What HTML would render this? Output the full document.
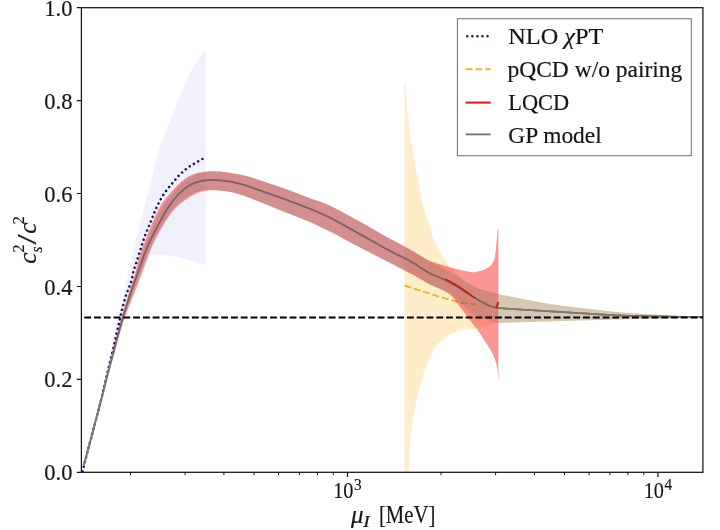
<!DOCTYPE html>
<html lang="en"><head><meta charset="utf-8"><title>Speed of sound</title>
<style>html,body{margin:0;padding:0;background:#fff}svg{display:block}text{stroke:#151515;stroke-width:.18px}</style></head>
<body>
<svg width="720" height="530" viewBox="0 0 720 530" font-family="'Liberation Serif', serif" font-size="24" fill="#151515">
<rect width="720" height="530" fill="#fff"/>
<defs><clipPath id="ax"><rect x="81.4" y="7.7" width="621.5" height="464.6"/></clipPath></defs>
<g clip-path="url(#ax)">
<path d="M105.0,376.0 L105.2,375.0 L105.4,374.0 L105.7,373.1 L105.9,372.1 L106.1,371.1 L106.3,370.1 L106.5,369.2 L106.8,368.2 L107.0,367.2 L107.2,366.2 L107.4,365.2 L107.6,364.3 L107.9,363.3 L108.1,362.3 L108.3,361.3 L108.5,360.4 L108.7,359.4 L109.0,358.4 L109.2,357.4 L109.4,356.4 L109.6,355.5 L109.8,354.5 L110.1,353.5 L110.3,352.5 L110.5,351.6 L110.7,350.6 L111.0,349.6 L111.2,348.6 L111.4,347.6 L111.6,346.7 L111.8,345.7 L112.1,344.7 L112.3,343.7 L112.5,342.8 L112.7,341.8 L113.0,340.8 L113.2,339.8 L113.4,338.9 L113.6,337.9 L113.8,336.9 L114.1,335.9 L114.3,334.9 L114.5,334.0 L114.7,333.0 L115.0,332.0 L115.2,331.0 L115.4,330.1 L115.6,329.1 L115.9,328.1 L116.1,327.1 L116.3,326.2 L116.5,325.2 L116.8,324.2 L117.0,323.2 L117.2,322.2 L117.4,321.3 L117.6,320.3 L117.9,319.3 L118.1,318.3 L118.3,317.4 L118.5,316.4 L118.8,315.4 L119.0,314.4 L119.2,313.5 L119.4,312.5 L119.7,311.5 L119.9,310.5 L120.1,309.5 L120.3,308.6 L120.6,307.6 L120.8,306.6 L121.0,305.6 L121.2,304.7 L121.4,303.7 L121.7,302.7 L121.9,301.7 L122.1,300.7 L122.3,299.8 L122.6,298.8 L122.8,297.8 L123.0,296.8 L123.2,295.9 L123.4,294.9 L123.7,293.9 L123.9,292.9 L124.1,292.0 L124.3,291.0 L124.5,290.0 L124.8,289.0 L125.0,288.0 L125.2,287.1 L125.4,286.1 L125.7,285.1 L125.9,284.1 L126.1,283.2 L126.3,282.2 L126.5,281.2 L126.8,280.2 L127.0,279.2 L127.2,278.3 L127.4,277.3 L127.7,276.3 L127.9,275.3 L128.1,274.4 L128.3,273.4 L128.5,272.4 L128.8,271.4 L129.0,270.4 L129.2,269.5 L129.4,268.5 L129.7,267.5 L129.9,266.5 L130.1,265.6 L130.3,264.6 L130.5,263.6 L130.8,262.6 L131.0,261.7 L131.2,260.7 L131.4,259.7 L131.7,258.7 L131.9,257.7 L132.1,256.8 L132.4,255.8 L132.6,254.8 L132.8,253.8 L133.0,252.9 L133.3,251.9 L133.5,250.9 L133.7,249.9 L134.0,249.0 L134.2,248.0 L134.4,247.0 L134.7,246.0 L134.9,245.1 L135.1,244.1 L135.4,243.1 L135.6,242.1 L135.8,241.2 L136.1,240.2 L136.3,239.2 L136.5,238.2 L136.8,237.3 L137.0,236.3 L137.2,235.3 L137.5,234.4 L137.7,233.4 L138.0,232.4 L138.2,231.4 L138.4,230.5 L138.7,229.5 L138.9,228.5 L139.1,227.5 L139.4,226.6 L139.6,225.6 L139.9,224.6 L140.1,223.6 L140.3,222.7 L140.6,221.7 L140.8,220.7 L141.1,219.7 L141.3,218.8 L141.6,217.8 L141.8,216.8 L142.1,215.9 L142.3,214.9 L142.6,213.9 L142.8,213.0 L143.1,212.0 L143.3,211.0 L143.6,210.1 L143.8,209.1 L144.1,208.1 L144.4,207.1 L144.6,206.2 L144.9,205.2 L145.1,204.2 L145.4,203.3 L145.7,202.3 L145.9,201.3 L146.2,200.4 L146.5,199.4 L146.7,198.4 L147.0,197.5 L147.2,196.5 L147.5,195.5 L147.8,194.6 L148.0,193.6 L148.3,192.6 L148.5,191.7 L148.8,190.7 L149.0,189.7 L149.3,188.8 L149.5,187.8 L149.8,186.8 L150.0,185.8 L150.3,184.9 L150.5,183.9 L150.8,182.9 L151.0,181.9 L151.2,181.0 L151.4,180.0 L151.6,179.0 L151.9,178.0 L152.1,177.1 L152.3,176.1 L152.5,175.1 L152.7,174.1 L152.9,173.1 L153.1,172.2 L153.3,171.2 L153.6,170.2 L153.8,169.2 L154.0,168.2 L154.2,167.3 L154.4,166.3 L154.7,165.3 L154.9,164.3 L155.2,163.4 L155.4,162.4 L155.7,161.4 L155.9,160.5 L156.2,159.5 L156.4,158.5 L156.7,157.6 L157.0,156.6 L157.3,155.6 L157.6,154.7 L157.9,153.7 L158.2,152.8 L158.5,151.8 L158.8,150.8 L159.1,149.9 L159.4,148.9 L159.7,148.0 L160.0,147.0 L160.4,146.1 L160.7,145.1 L161.0,144.2 L161.3,143.2 L161.7,142.3 L162.0,141.4 L162.4,140.4 L162.7,139.5 L163.0,138.5 L163.4,137.6 L163.7,136.6 L164.1,135.7 L164.4,134.8 L164.8,133.8 L165.1,132.9 L165.5,131.9 L165.8,131.0 L166.2,130.1 L166.5,129.1 L166.9,128.2 L167.2,127.3 L167.6,126.3 L167.9,125.4 L168.3,124.4 L168.7,123.5 L169.0,122.6 L169.4,121.6 L169.8,120.7 L170.1,119.8 L170.5,118.8 L170.8,117.9 L171.2,117.0 L171.6,116.0 L172.0,115.1 L172.3,114.2 L172.7,113.3 L173.1,112.3 L173.4,111.4 L173.8,110.5 L174.2,109.5 L174.6,108.6 L174.9,107.7 L175.3,106.7 L175.7,105.8 L176.1,104.9 L176.5,104.0 L176.8,103.0 L177.2,102.1 L177.6,101.2 L178.0,100.3 L178.4,99.3 L178.8,98.4 L179.2,97.5 L179.6,96.6 L180.0,95.7 L180.4,94.7 L180.8,93.8 L181.2,92.9 L181.6,92.0 L182.0,91.1 L182.4,90.2 L182.8,89.2 L183.2,88.3 L183.6,87.4 L184.0,86.5 L184.4,85.6 L184.9,84.7 L185.3,83.7 L185.7,82.8 L186.1,81.9 L186.5,81.0 L186.9,80.1 L187.3,79.2 L187.7,78.3 L188.1,77.3 L188.6,76.4 L189.0,75.5 L189.4,74.6 L189.9,73.7 L190.3,72.8 L190.8,71.9 L191.2,71.0 L191.7,70.1 L192.2,69.3 L192.6,68.4 L193.1,67.5 L193.6,66.6 L194.1,65.7 L194.6,64.9 L195.1,64.0 L195.6,63.1 L196.1,62.3 L196.6,61.4 L197.1,60.6 L197.7,59.7 L198.2,58.8 L198.7,58.0 L199.3,57.1 L199.8,56.3 L200.4,55.5 L201.0,54.7 L201.7,54.0 L202.4,53.3 L203.2,52.7 L204.0,52.1 L204.9,51.5 L205.8,51.0 L205.8,265.0 L204.8,264.7 L203.9,264.4 L202.9,264.1 L202.0,263.8 L201.0,263.5 L200.1,263.2 L199.1,262.9 L198.2,262.6 L197.2,262.3 L196.2,262.0 L195.3,261.7 L194.3,261.4 L193.4,261.2 L192.4,260.9 L191.4,260.6 L190.5,260.3 L189.5,260.1 L188.5,259.8 L187.6,259.5 L186.6,259.2 L185.6,259.0 L184.7,258.7 L183.7,258.5 L182.7,258.2 L181.8,258.0 L180.8,257.8 L179.8,257.5 L178.8,257.3 L177.9,257.1 L176.9,256.9 L175.9,256.7 L174.9,256.5 L173.9,256.3 L172.9,256.2 L171.9,256.0 L170.9,255.9 L169.9,255.8 L168.9,255.7 L167.9,255.6 L166.9,255.6 L165.9,255.5 L164.9,255.4 L163.9,255.4 L162.9,255.3 L161.9,255.3 L160.9,255.3 L159.9,255.3 L158.9,255.3 L157.9,255.3 L156.9,255.3 L155.9,255.3 L154.9,255.3 L153.9,255.4 L152.9,255.6 L152.0,255.8 L151.0,256.1 L150.0,256.4 L149.1,256.9 L148.2,257.4 L147.5,258.1 L146.8,258.8 L146.2,259.7 L145.7,260.5 L145.2,261.4 L144.7,262.3 L144.2,263.2 L143.8,264.1 L143.4,265.0 L143.0,265.9 L142.7,266.9 L142.3,267.8 L141.9,268.7 L141.6,269.7 L141.2,270.6 L140.8,271.5 L140.5,272.5 L140.1,273.4 L139.8,274.3 L139.4,275.3 L139.0,276.2 L138.7,277.1 L138.3,278.1 L137.9,279.0 L137.6,279.9 L137.2,280.9 L136.9,281.8 L136.5,282.7 L136.1,283.7 L135.8,284.6 L135.4,285.5 L135.0,286.5 L134.7,287.4 L134.3,288.3 L133.9,289.3 L133.5,290.2 L133.2,291.1 L132.8,292.1 L132.4,293.0 L132.0,293.9 L131.7,294.8 L131.3,295.8 L130.9,296.7 L130.5,297.6 L130.2,298.6 L129.8,299.5 L129.4,300.4 L129.1,301.4 L128.7,302.3 L128.3,303.2 L128.0,304.2 L127.6,305.1 L127.3,306.0 L126.9,307.0 L126.5,307.9 L126.2,308.8 L125.8,309.8 L125.5,310.7 L125.1,311.7 L124.8,312.6 L124.4,313.5 L124.1,314.5 L123.7,315.4 L123.4,316.4 L123.1,317.3 L122.7,318.2 L122.4,319.2 L122.0,320.1 L121.7,321.1 L121.4,322.0 L121.0,323.0 L120.7,323.9 L120.4,324.9 L120.1,325.8 L119.7,326.8 L119.4,327.7 L119.1,328.7 L118.8,329.6 L118.5,330.6 L118.2,331.5 L117.9,332.5 L117.6,333.4 L117.3,334.4 L117.0,335.4 L116.7,336.3 L116.5,337.3 L116.2,338.3 L115.9,339.2 L115.6,340.2 L115.4,341.1 L115.1,342.1 L114.8,343.1 L114.6,344.0 L114.3,345.0 L114.1,346.0 L113.8,347.0 L113.6,347.9 L113.3,348.9 L113.1,349.9 L112.8,350.8 L112.6,351.8 L112.3,352.8 L112.1,353.7 L111.8,354.7 L111.6,355.7 L111.3,356.7 L111.1,357.6 L110.8,358.6 L110.6,359.6 L110.4,360.6 L110.1,361.5 L109.9,362.5 L109.6,363.5 L109.4,364.4 L109.2,365.4 L108.9,366.4 L108.7,367.4 L108.5,368.3 L108.3,369.3 L108.0,370.3 L107.8,371.3 L107.6,372.2 L107.3,373.2 L107.1,374.2 L106.9,375.2 L106.7,376.2 L106.5,377.1 L106.3,378.1 L106.0,379.1 L105.8,380.1 L105.6,381.1 L105.4,382.0 L105.2,383.0 L105.0,384.0Z" fill="#3c3cd0" fill-opacity="0.072"/>
<path d="M404.5,83.8 L405.6,83.9 L405.7,84.9 L405.8,85.9 L405.9,86.9 L406.0,87.9 L406.0,88.9 L406.1,89.9 L406.2,90.9 L406.2,91.8 L406.3,92.8 L406.3,93.8 L406.4,94.8 L406.4,95.8 L406.4,96.8 L406.5,97.8 L406.5,98.8 L406.6,99.8 L406.6,100.8 L406.7,101.8 L406.7,102.8 L406.8,103.8 L406.9,104.8 L406.9,105.8 L407.0,106.8 L407.1,107.8 L407.2,108.8 L407.3,109.8 L407.4,110.8 L407.5,111.8 L407.6,112.8 L407.7,113.8 L407.8,114.8 L407.9,115.8 L408.0,116.8 L408.1,117.8 L408.1,118.8 L408.2,119.8 L408.3,120.8 L408.4,121.8 L408.5,122.8 L408.6,123.8 L408.7,124.8 L408.8,125.8 L408.9,126.8 L409.0,127.8 L409.2,128.7 L409.3,129.7 L409.4,130.7 L409.5,131.7 L409.7,132.7 L409.8,133.7 L410.0,134.7 L410.1,135.7 L410.3,136.7 L410.5,137.6 L410.7,138.6 L410.8,139.6 L411.0,140.6 L411.2,141.6 L411.4,142.6 L411.5,143.6 L411.7,144.5 L411.9,145.5 L412.0,146.5 L412.2,147.5 L412.4,148.5 L412.6,149.5 L412.7,150.5 L412.9,151.4 L413.1,152.4 L413.3,153.4 L413.4,154.4 L413.6,155.4 L413.8,156.4 L414.0,157.3 L414.1,158.3 L414.3,159.3 L414.5,160.3 L414.7,161.3 L414.8,162.3 L415.0,163.3 L415.2,164.2 L415.3,165.2 L415.5,166.2 L415.7,167.2 L415.9,168.2 L416.0,169.2 L416.2,170.2 L416.4,171.1 L416.6,172.1 L416.7,173.1 L416.9,174.1 L417.1,175.1 L417.3,176.1 L417.4,177.1 L417.6,178.0 L417.8,179.0 L418.0,180.0 L418.1,181.0 L418.3,182.0 L418.5,183.0 L418.6,183.9 L418.8,184.9 L419.0,185.9 L419.2,186.9 L419.3,187.9 L419.5,188.9 L419.7,189.9 L419.9,190.8 L420.1,191.8 L420.2,192.8 L420.4,193.8 L420.6,194.8 L420.8,195.8 L420.9,196.7 L421.1,197.7 L421.3,198.7 L421.5,199.7 L421.8,200.7 L422.0,201.6 L422.2,202.6 L422.5,203.6 L422.7,204.5 L423.0,205.5 L423.3,206.5 L423.6,207.4 L423.8,208.4 L424.1,209.3 L424.4,210.3 L424.7,211.2 L425.0,212.2 L425.3,213.2 L425.6,214.1 L425.9,215.1 L426.3,216.0 L426.6,217.0 L426.9,217.9 L427.2,218.9 L427.5,219.8 L427.8,220.8 L428.1,221.7 L428.5,222.7 L428.8,223.6 L429.1,224.6 L429.4,225.5 L429.7,226.5 L430.0,227.5 L430.3,228.4 L430.6,229.4 L430.9,230.3 L431.1,231.3 L431.4,232.3 L431.7,233.2 L432.0,234.2 L432.3,235.1 L432.6,236.1 L432.9,237.1 L433.2,238.0 L433.5,238.9 L433.8,239.9 L434.2,240.8 L434.5,241.8 L434.9,242.7 L435.3,243.6 L435.8,244.5 L436.2,245.4 L436.7,246.3 L437.2,247.2 L437.6,248.1 L438.1,248.9 L438.7,249.8 L439.2,250.6 L439.7,251.5 L440.2,252.3 L440.8,253.2 L441.3,254.0 L441.8,254.9 L442.3,255.7 L442.9,256.6 L443.4,257.4 L443.9,258.3 L444.4,259.1 L444.9,260.0 L445.5,260.8 L446.0,261.7 L446.5,262.5 L447.1,263.4 L447.6,264.2 L448.2,265.0 L448.8,265.8 L449.5,266.6 L450.2,267.3 L450.9,268.0 L451.6,268.7 L452.3,269.4 L453.0,270.1 L453.7,270.8 L454.5,271.5 L455.2,272.2 L455.9,272.9 L456.7,273.6 L457.4,274.3 L458.1,275.0 L458.9,275.7 L459.6,276.3 L460.4,277.0 L461.1,277.6 L461.9,278.3 L462.6,278.9 L463.4,279.6 L464.2,280.2 L465.0,280.8 L465.8,281.4 L466.6,281.9 L467.5,282.5 L468.3,283.0 L469.2,283.5 L470.1,284.0 L471.0,284.5 L471.9,285.0 L472.8,285.5 L473.7,285.9 L474.6,286.3 L475.5,286.8 L476.5,287.2 L477.4,287.6 L478.3,288.0 L479.2,288.3 L480.2,288.7 L481.1,289.1 L482.1,289.4 L483.0,289.7 L483.9,290.1 L484.9,290.4 L485.8,290.7 L486.8,291.0 L487.7,291.3 L488.7,291.6 L489.7,291.8 L490.6,292.1 L491.6,292.4 L492.6,292.6 L493.5,292.9 L494.5,293.1 L495.5,293.3 L496.4,293.5 L497.4,293.8 L498.4,294.0 L499.4,294.2 L500.4,294.4 L501.3,294.6 L502.3,294.8 L503.3,295.0 L504.3,295.2 L505.2,295.4 L506.2,295.6 L507.2,295.9 L508.2,296.1 L509.2,296.3 L510.1,296.5 L511.1,296.7 L512.1,296.9 L513.1,297.1 L514.1,297.3 L515.0,297.5 L516.0,297.7 L517.0,297.9 L518.0,298.0 L519.0,298.2 L519.9,298.4 L520.9,298.6 L521.9,298.8 L522.9,299.0 L523.9,299.2 L524.9,299.3 L525.8,299.5 L526.8,299.7 L527.8,299.9 L528.8,300.1 L529.8,300.3 L530.8,300.5 L531.7,300.7 L532.7,300.9 L533.7,301.1 L534.7,301.2 L535.7,301.4 L536.7,301.6 L537.6,301.8 L538.6,302.0 L539.6,302.2 L540.6,302.4 L541.6,302.6 L542.6,302.7 L543.5,302.9 L544.5,303.1 L545.5,303.3 L546.5,303.4 L547.5,303.6 L548.5,303.8 L549.5,303.9 L550.4,304.1 L551.4,304.2 L552.4,304.4 L553.4,304.5 L554.4,304.7 L555.4,304.8 L556.4,305.0 L557.4,305.1 L558.4,305.2 L559.4,305.3 L560.3,305.5 L561.3,305.6 L562.3,305.7 L563.3,305.8 L564.3,306.0 L565.3,306.1 L566.3,306.2 L567.3,306.3 L568.3,306.4 L569.3,306.6 L570.3,306.7 L571.3,306.8 L572.3,306.9 L573.3,307.0 L574.3,307.2 L575.2,307.3 L576.2,307.4 L577.2,307.5 L578.2,307.6 L579.2,307.7 L580.2,307.9 L581.2,308.0 L582.2,308.1 L583.2,308.2 L584.2,308.3 L585.2,308.4 L586.2,308.6 L587.2,308.7 L588.2,308.8 L589.2,308.9 L590.1,309.0 L591.1,309.1 L592.1,309.3 L593.1,309.4 L594.1,309.5 L595.1,309.6 L596.1,309.7 L597.1,309.8 L598.1,309.9 L599.1,310.1 L600.1,310.2 L601.1,310.3 L602.1,310.4 L603.1,310.5 L604.1,310.6 L605.1,310.7 L606.0,310.9 L607.0,311.0 L608.0,311.1 L609.0,311.2 L610.0,311.3 L611.0,311.4 L612.0,311.5 L613.0,311.6 L614.0,311.7 L615.0,311.8 L616.0,311.9 L617.0,312.0 L618.0,312.1 L619.0,312.2 L620.0,312.3 L621.0,312.4 L622.0,312.5 L623.0,312.5 L624.0,312.6 L625.0,312.7 L626.0,312.8 L627.0,312.8 L628.0,312.9 L629.0,313.0 L630.0,313.1 L630.9,313.1 L631.9,313.2 L632.9,313.3 L633.9,313.3 L634.9,313.4 L635.9,313.5 L636.9,313.5 L637.9,313.6 L638.9,313.7 L639.9,313.7 L640.9,313.8 L641.9,313.8 L642.9,313.9 L643.9,314.0 L644.9,314.0 L645.9,314.1 L646.9,314.1 L647.9,314.2 L648.9,314.2 L649.9,314.3 L650.9,314.4 L651.9,314.4 L652.9,314.5 L653.9,314.5 L654.9,314.6 L655.9,314.6 L656.9,314.7 L657.9,314.7 L658.9,314.8 L659.9,314.8 L660.9,314.9 L661.9,314.9 L662.9,315.0 L663.9,315.0 L664.9,315.1 L665.9,315.1 L666.9,315.1 L667.9,315.2 L668.9,315.2 L669.9,315.3 L670.9,315.3 L671.9,315.4 L672.9,315.4 L673.9,315.4 L674.9,315.5 L675.9,315.5 L676.9,315.6 L677.9,315.6 L678.9,315.6 L679.9,315.7 L680.9,315.7 L681.9,315.7 L682.9,315.8 L683.9,315.8 L684.9,315.8 L685.9,315.9 L686.9,315.9 L687.9,315.9 L688.9,316.0 L689.9,316.0 L690.9,316.0 L691.9,316.0 L692.9,316.1 L693.9,316.1 L694.9,316.1 L695.9,316.1 L696.9,316.2 L697.9,316.2 L698.9,316.2 L699.9,316.2 L700.9,316.3 L701.9,316.3 L702.9,316.3 L702.9,317.8 L701.9,317.8 L700.9,317.8 L699.9,317.9 L698.9,317.9 L697.9,317.9 L696.9,317.9 L695.9,317.9 L694.9,317.9 L693.9,318.0 L692.9,318.0 L691.9,318.0 L690.9,318.0 L689.9,318.0 L688.9,318.0 L687.9,318.1 L686.9,318.1 L685.9,318.1 L684.9,318.1 L683.9,318.1 L682.9,318.2 L681.9,318.2 L680.9,318.2 L679.9,318.2 L678.9,318.2 L677.9,318.3 L676.9,318.3 L675.9,318.3 L674.9,318.3 L673.9,318.3 L672.9,318.3 L671.9,318.4 L670.9,318.4 L669.9,318.4 L668.9,318.4 L667.9,318.4 L666.9,318.5 L665.9,318.5 L664.8,318.5 L663.8,318.5 L662.8,318.5 L661.8,318.6 L660.8,318.6 L659.8,318.6 L658.8,318.6 L657.8,318.6 L656.8,318.7 L655.8,318.7 L654.8,318.7 L653.8,318.7 L652.8,318.7 L651.8,318.8 L650.8,318.8 L649.8,318.8 L648.8,318.8 L647.8,318.8 L646.8,318.9 L645.8,318.9 L644.8,318.9 L643.8,318.9 L642.8,318.9 L641.8,319.0 L640.8,319.0 L639.8,319.0 L638.8,319.0 L637.8,319.1 L636.8,319.1 L635.8,319.1 L634.8,319.1 L633.8,319.1 L632.8,319.2 L631.8,319.2 L630.8,319.2 L629.8,319.2 L628.8,319.2 L627.8,319.3 L626.8,319.3 L625.8,319.3 L624.8,319.3 L623.8,319.4 L622.8,319.4 L621.8,319.4 L620.8,319.4 L619.8,319.5 L618.8,319.5 L617.8,319.5 L616.8,319.5 L615.8,319.6 L614.8,319.6 L613.8,319.6 L612.8,319.6 L611.8,319.7 L610.8,319.7 L609.8,319.7 L608.8,319.7 L607.8,319.8 L606.8,319.8 L605.8,319.8 L604.8,319.8 L603.8,319.9 L602.8,319.9 L601.8,319.9 L600.8,319.9 L599.8,320.0 L598.8,320.0 L597.8,320.0 L596.8,320.1 L595.8,320.1 L594.8,320.1 L593.8,320.1 L592.8,320.2 L591.8,320.2 L590.8,320.2 L589.8,320.3 L588.8,320.3 L587.8,320.3 L586.8,320.3 L585.8,320.4 L584.8,320.4 L583.8,320.4 L582.7,320.5 L581.7,320.5 L580.7,320.5 L579.7,320.5 L578.7,320.6 L577.7,320.6 L576.7,320.6 L575.7,320.7 L574.7,320.7 L573.7,320.7 L572.7,320.7 L571.7,320.8 L570.7,320.8 L569.7,320.8 L568.7,320.9 L567.7,320.9 L566.7,320.9 L565.7,320.9 L564.7,321.0 L563.7,321.0 L562.7,321.0 L561.7,321.1 L560.7,321.1 L559.7,321.1 L558.7,321.2 L557.7,321.2 L556.7,321.2 L555.7,321.2 L554.7,321.3 L553.7,321.3 L552.7,321.3 L551.7,321.4 L550.7,321.4 L549.7,321.4 L548.7,321.4 L547.7,321.5 L546.7,321.5 L545.7,321.5 L544.7,321.6 L543.7,321.6 L542.7,321.6 L541.7,321.7 L540.7,321.7 L539.7,321.7 L538.7,321.7 L537.7,321.8 L536.7,321.8 L535.7,321.8 L534.7,321.9 L533.7,321.9 L532.7,321.9 L531.7,321.9 L530.7,322.0 L529.7,322.0 L528.7,322.0 L527.7,322.1 L526.7,322.1 L525.7,322.1 L524.7,322.2 L523.7,322.2 L522.7,322.2 L521.7,322.2 L520.7,322.3 L519.7,322.3 L518.7,322.3 L517.7,322.4 L516.7,322.4 L515.7,322.4 L514.7,322.5 L513.7,322.5 L512.7,322.5 L511.7,322.6 L510.7,322.6 L509.7,322.6 L508.7,322.7 L507.7,322.7 L506.7,322.7 L505.7,322.8 L504.7,322.8 L503.7,322.8 L502.7,322.9 L501.7,322.9 L500.7,322.9 L499.7,323.0 L498.7,323.0 L497.7,323.0 L496.7,323.1 L495.7,323.2 L494.7,323.4 L493.7,323.6 L492.7,323.8 L491.8,324.0 L490.8,324.2 L489.8,324.5 L488.8,324.7 L487.9,325.0 L486.9,325.3 L485.9,325.6 L485.0,325.9 L484.0,326.2 L483.0,326.5 L482.1,326.8 L481.1,327.1 L480.1,327.3 L479.2,327.6 L478.2,327.9 L477.2,328.1 L476.2,328.3 L475.3,328.5 L474.3,328.7 L473.3,328.8 L472.3,328.9 L471.3,328.9 L470.3,329.0 L469.3,329.0 L468.3,329.1 L467.3,329.2 L466.3,329.4 L465.3,329.5 L464.3,329.7 L463.3,329.8 L462.4,330.0 L461.4,330.2 L460.4,330.5 L459.4,330.7 L458.5,331.0 L457.5,331.3 L456.6,331.6 L455.6,332.0 L454.6,332.3 L453.7,332.8 L452.8,333.2 L451.9,333.6 L451.0,334.1 L450.2,334.6 L449.3,335.1 L448.5,335.7 L447.6,336.2 L446.8,336.8 L446.0,337.4 L445.2,338.0 L444.4,338.6 L443.6,339.2 L442.8,339.8 L442.0,340.4 L441.2,341.0 L440.4,341.6 L439.6,342.3 L438.8,342.9 L438.1,343.6 L437.4,344.3 L436.7,345.1 L436.1,345.9 L435.5,346.7 L435.0,347.6 L434.5,348.4 L434.0,349.3 L433.5,350.2 L433.1,351.1 L432.7,352.0 L432.3,352.9 L431.8,353.8 L431.4,354.7 L431.0,355.6 L430.6,356.5 L430.2,357.5 L429.7,358.4 L429.3,359.3 L428.9,360.2 L428.5,361.1 L428.1,362.0 L427.7,362.9 L427.3,363.9 L426.9,364.8 L426.6,365.7 L426.2,366.6 L425.8,367.6 L425.5,368.5 L425.1,369.4 L424.8,370.4 L424.4,371.3 L424.1,372.3 L423.8,373.2 L423.5,374.2 L423.2,375.1 L422.8,376.1 L422.5,377.1 L422.3,378.0 L422.0,379.0 L421.7,379.9 L421.4,380.9 L421.1,381.9 L420.8,382.8 L420.6,383.8 L420.3,384.7 L420.1,385.7 L419.8,386.7 L419.5,387.6 L419.3,388.6 L419.0,389.6 L418.8,390.6 L418.6,391.5 L418.3,392.5 L418.1,393.5 L417.9,394.5 L417.7,395.4 L417.4,396.4 L417.2,397.4 L417.0,398.4 L416.8,399.3 L416.6,400.3 L416.4,401.3 L416.2,402.3 L416.0,403.3 L415.8,404.3 L415.6,405.2 L415.4,406.2 L415.2,407.2 L415.0,408.2 L414.8,409.2 L414.7,410.2 L414.5,411.2 L414.3,412.2 L414.1,413.1 L414.0,414.1 L413.8,415.1 L413.7,416.1 L413.5,417.1 L413.3,418.1 L413.2,419.1 L413.0,420.1 L412.9,421.0 L412.7,422.0 L412.6,423.0 L412.4,424.0 L412.3,425.0 L412.1,426.0 L412.0,427.0 L411.8,428.0 L411.7,429.0 L411.5,429.9 L411.4,430.9 L411.2,431.9 L411.1,432.9 L410.9,433.9 L410.8,434.9 L410.7,435.9 L410.6,436.9 L410.5,437.9 L410.4,438.9 L410.3,439.9 L410.3,440.9 L410.2,441.9 L410.2,442.9 L410.1,443.9 L410.1,444.9 L410.0,445.9 L410.0,446.9 L409.9,447.9 L409.9,448.9 L409.9,449.9 L409.8,450.9 L409.8,451.9 L409.8,452.9 L409.7,453.9 L409.7,454.9 L409.7,455.9 L409.6,456.9 L409.6,457.9 L409.5,458.9 L409.5,459.9 L409.5,460.9 L409.4,461.9 L409.3,462.9 L409.3,463.9 L409.2,464.9 L409.1,465.9 L409.0,466.9 L408.9,467.9 L408.8,468.9 L408.7,469.9 L408.6,470.9 L408.4,471.9 L408.2,472.9 L408.0,473.8 L407.6,474.7 L407.2,475.7 L406.8,476.5 L406.3,477.4 L405.7,478.3 L405.1,479.1 L404.5,480.0Z" fill="#ffa500" fill-opacity="0.21"/>
<path d="M404.6,285.3 L406.0,285.8 L407.4,286.4 L408.8,286.9 L410.3,287.4 L411.7,287.9 L413.1,288.4 L414.6,288.8 L416.0,289.3 L417.4,289.8 L418.9,290.2 L420.3,290.7 L421.8,291.2 L423.2,291.6 L424.6,292.1 L426.1,292.5 L427.5,293.0 L429.0,293.4 L430.4,293.9 L431.9,294.3 L433.3,294.8 L434.8,295.2 L436.2,295.6 L437.7,296.1 L439.1,296.5 L440.5,297.0 L442.0,297.4 L443.4,297.8 L444.9,298.3 L446.3,298.7 L447.8,299.1 L449.2,299.5 L450.7,300.0 L452.2,300.4 L453.6,300.7 L455.1,301.1 L456.6,301.5 L458.0,301.8 L459.5,302.1 L461.0,302.4 L462.5,302.7 L464.0,303.0 L465.4,303.2 L466.9,303.4 L468.4,303.6 L469.9,303.8 L471.5,303.9 L473.0,304.0 L474.5,304.1 L476.0,304.2" fill="none" stroke="#edb528" stroke-width="1.9" stroke-dasharray="6.9 2.9"/>
<path d="M83.5,465.2 L83.8,464.2 L84.0,463.3 L84.3,462.3 L84.6,461.3 L84.8,460.4 L85.1,459.4 L85.4,458.4 L85.6,457.5 L85.9,456.5 L86.2,455.6 L86.4,454.6 L86.7,453.6 L87.0,452.7 L87.2,451.7 L87.5,450.7 L87.7,449.8 L88.0,448.8 L88.3,447.8 L88.5,446.9 L88.8,445.9 L89.0,444.9 L89.3,444.0 L89.6,443.0 L89.8,442.0 L90.1,441.1 L90.3,440.1 L90.6,439.1 L90.8,438.2 L91.1,437.2 L91.3,436.2 L91.6,435.3 L91.9,434.3 L92.1,433.3 L92.4,432.3 L92.6,431.4 L92.9,430.4 L93.1,429.4 L93.4,428.5 L93.6,427.5 L93.9,426.5 L94.1,425.6 L94.3,424.6 L94.6,423.6 L94.8,422.7 L95.1,421.7 L95.3,420.7 L95.6,419.7 L95.8,418.8 L96.0,417.8 L96.3,416.8 L96.5,415.9 L96.8,414.9 L97.0,413.9 L97.2,412.9 L97.5,412.0 L97.7,411.0 L97.9,410.0 L98.2,409.0 L98.4,408.1 L98.6,407.1 L98.9,406.1 L99.1,405.2 L99.3,404.2 L99.6,403.2 L99.8,402.2 L100.0,401.3 L100.3,400.3 L100.5,399.3 L100.7,398.3 L101.0,397.4 L101.2,396.4 L101.4,395.4 L101.7,394.5 L101.9,393.5 L102.2,392.5 L102.4,391.5 L102.6,390.6 L102.9,389.6 L103.1,388.6 L103.3,387.6 L103.6,386.7 L103.8,385.7 L104.1,384.7 L104.3,383.8 L104.5,382.8 L104.8,381.8 L105.0,380.9 L105.3,379.9 L105.5,378.9 L105.8,377.9 L106.0,377.0 L106.3,376.0 L106.5,375.0 L106.8,374.1 L107.0,373.1 L107.3,372.1 L107.5,371.2 L107.8,370.2 L108.0,369.2 L108.3,368.2 L108.5,367.3 L108.7,366.3 L109.0,365.3 L109.2,364.4 L109.5,363.4 L109.7,362.4 L110.0,361.5 L110.2,360.5 L110.5,359.5 L110.7,358.6 L111.0,357.6 L111.2,356.6 L111.5,355.6 L111.7,354.7 L112.0,353.7 L112.2,352.7 L112.5,351.8 L112.7,350.8 L113.0,349.8 L113.2,348.9 L113.5,347.9 L113.7,346.9 L114.0,346.0 L114.2,345.0 L114.5,344.0 L114.7,343.0 L115.0,342.1 L115.2,341.1 L115.5,340.1 L115.7,339.2 L116.0,338.2 L116.2,337.2 L116.5,336.3 L116.7,335.3 L117.0,334.3 L117.2,333.4 L117.5,332.4 L117.7,331.4 L118.0,330.4 L118.2,329.5 L118.5,328.5 L118.7,327.5 L119.0,326.6 L119.2,325.6 L119.5,324.6 L119.7,323.7 L120.0,322.7 L120.2,321.7 L120.5,320.8 L120.8,319.8 L121.0,318.8 L121.3,317.9 L121.5,316.9 L121.8,315.9 L122.1,315.0 L122.3,314.0 L122.6,313.1 L122.9,312.1 L123.2,311.1 L123.5,310.2 L123.8,309.2 L124.1,308.3 L124.4,307.3 L124.7,306.3 L125.0,305.4 L125.3,304.4 L125.5,303.5 L125.8,302.5 L126.1,301.6 L126.4,300.6 L126.7,299.6 L127.0,298.7 L127.3,297.7 L127.6,296.8 L127.9,295.8 L128.2,294.9 L128.5,293.9 L128.8,293.0 L129.1,292.0 L129.4,291.0 L129.7,290.1 L130.0,289.1 L130.3,288.2 L130.6,287.2 L130.9,286.3 L131.3,285.3 L131.6,284.4 L132.0,283.5 L132.3,282.5 L132.6,281.6 L132.9,280.6 L133.2,279.7 L133.5,278.7 L133.8,277.8 L134.1,276.8 L134.3,275.8 L134.6,274.9 L134.9,273.9 L135.2,272.9 L135.4,272.0 L135.7,271.0 L136.0,270.0 L136.2,269.1 L136.5,268.1 L136.7,267.1 L136.9,266.2 L137.2,265.2 L137.4,264.2 L137.6,263.2 L137.9,262.3 L138.1,261.3 L138.3,260.3 L138.6,259.4 L138.8,258.4 L139.1,257.4 L139.4,256.5 L139.7,255.5 L140.0,254.5 L140.3,253.6 L140.6,252.7 L141.0,251.7 L141.3,250.8 L141.6,249.8 L142.0,248.9 L142.3,247.9 L142.7,247.0 L143.0,246.1 L143.4,245.1 L143.8,244.2 L144.1,243.3 L144.5,242.3 L144.9,241.4 L145.2,240.5 L145.6,239.6 L146.0,238.6 L146.3,237.7 L146.7,236.8 L147.1,235.8 L147.4,234.9 L147.8,234.0 L148.2,233.0 L148.5,232.1 L148.9,231.2 L149.3,230.3 L149.7,229.3 L150.0,228.4 L150.4,227.5 L150.8,226.5 L151.2,225.6 L151.6,224.7 L151.9,223.8 L152.3,222.8 L152.7,221.9 L153.1,221.0 L153.5,220.1 L153.9,219.2 L154.3,218.3 L154.7,217.4 L155.1,216.4 L155.6,215.5 L156.0,214.6 L156.4,213.7 L156.8,212.8 L157.3,211.9 L157.7,211.0 L158.2,210.1 L158.6,209.2 L159.1,208.4 L159.6,207.5 L160.1,206.6 L160.7,205.8 L161.2,204.9 L161.7,204.1 L162.3,203.2 L162.8,202.4 L163.4,201.6 L164.0,200.7 L164.6,199.9 L165.2,199.1 L165.8,198.3 L166.4,197.6 L167.0,196.8 L167.7,196.0 L168.3,195.3 L169.0,194.5 L169.6,193.7 L170.3,193.0 L170.9,192.2 L171.6,191.5 L172.3,190.7 L173.0,190.0 L173.6,189.2 L174.3,188.5 L175.0,187.8 L175.7,187.1 L176.4,186.4 L177.1,185.7 L177.8,185.0 L178.5,184.3 L179.2,183.6 L180.0,182.9 L180.7,182.3 L181.5,181.6 L182.2,180.9 L183.0,180.3 L183.8,179.7 L184.6,179.0 L185.4,178.4 L186.3,177.8 L187.1,177.3 L188.0,176.8 L188.9,176.3 L189.8,175.8 L190.7,175.4 L191.6,175.0 L192.5,174.6 L193.4,174.2 L194.4,173.9 L195.3,173.6 L196.3,173.3 L197.3,173.1 L198.3,172.8 L199.3,172.6 L200.3,172.4 L201.2,172.2 L202.2,172.0 L203.2,171.9 L204.2,171.7 L205.2,171.6 L206.2,171.5 L207.2,171.4 L208.2,171.4 L209.2,171.3 L210.2,171.3 L211.2,171.3 L212.2,171.3 L213.2,171.3 L214.2,171.3 L215.2,171.3 L216.2,171.3 L217.2,171.4 L218.2,171.4 L219.2,171.5 L220.2,171.6 L221.2,171.6 L222.2,171.8 L223.2,171.9 L224.2,172.0 L225.2,172.2 L226.1,172.3 L227.1,172.4 L228.1,172.6 L229.1,172.7 L230.1,172.9 L231.1,173.1 L232.1,173.2 L233.1,173.4 L234.0,173.6 L235.0,173.8 L236.0,173.9 L237.0,174.1 L238.0,174.3 L239.0,174.5 L240.0,174.6 L241.0,174.8 L241.9,175.0 L242.9,175.2 L243.9,175.4 L244.9,175.6 L245.9,175.8 L246.8,176.1 L247.8,176.3 L248.8,176.6 L249.7,176.9 L250.7,177.2 L251.6,177.5 L252.6,177.9 L253.5,178.2 L254.5,178.5 L255.4,178.8 L256.4,179.1 L257.3,179.4 L258.3,179.8 L259.2,180.1 L260.2,180.4 L261.1,180.7 L262.1,181.0 L263.0,181.3 L264.0,181.7 L264.9,182.0 L265.9,182.3 L266.8,182.6 L267.7,182.9 L268.7,183.2 L269.6,183.5 L270.6,183.9 L271.5,184.2 L272.5,184.5 L273.4,184.8 L274.4,185.1 L275.3,185.4 L276.3,185.8 L277.2,186.1 L278.2,186.4 L279.1,186.7 L280.1,187.0 L281.0,187.4 L282.0,187.7 L282.9,188.0 L283.9,188.3 L284.8,188.7 L285.8,189.0 L286.7,189.4 L287.6,189.7 L288.6,190.1 L289.5,190.4 L290.4,190.8 L291.4,191.1 L292.3,191.5 L293.2,191.8 L294.2,192.2 L295.1,192.5 L296.1,192.9 L297.0,193.3 L297.9,193.6 L298.9,194.0 L299.8,194.3 L300.7,194.7 L301.7,195.1 L302.6,195.4 L303.5,195.8 L304.5,196.2 L305.4,196.5 L306.3,196.9 L307.3,197.2 L308.2,197.6 L309.1,198.0 L310.1,198.3 L311.0,198.7 L311.9,199.0 L312.9,199.3 L313.8,199.6 L314.8,200.0 L315.7,200.3 L316.7,200.6 L317.6,200.9 L318.6,201.2 L319.5,201.5 L320.5,201.8 L321.4,202.2 L322.4,202.5 L323.3,202.9 L324.2,203.3 L325.2,203.6 L326.1,204.0 L327.0,204.4 L327.9,204.8 L328.8,205.2 L329.8,205.6 L330.7,206.0 L331.6,206.5 L332.5,206.9 L333.4,207.4 L334.3,207.8 L335.1,208.3 L336.0,208.7 L336.9,209.2 L337.8,209.7 L338.7,210.1 L339.6,210.6 L340.5,211.1 L341.3,211.5 L342.2,212.0 L343.1,212.5 L344.0,213.0 L344.9,213.4 L345.7,213.9 L346.6,214.4 L347.5,214.9 L348.4,215.3 L349.3,215.8 L350.1,216.3 L351.0,216.8 L351.9,217.3 L352.8,217.7 L353.7,218.2 L354.5,218.7 L355.4,219.2 L356.3,219.7 L357.2,220.1 L358.0,220.6 L358.9,221.1 L359.8,221.6 L360.7,222.1 L361.5,222.6 L362.4,223.0 L363.3,223.5 L364.2,224.0 L365.0,224.5 L365.9,225.0 L366.8,225.5 L367.6,226.0 L368.5,226.5 L369.4,227.0 L370.2,227.5 L371.1,228.0 L372.0,228.5 L372.8,229.0 L373.7,229.5 L374.6,230.0 L375.4,230.5 L376.3,231.0 L377.2,231.5 L378.0,232.0 L378.9,232.5 L379.8,233.0 L380.6,233.5 L381.5,234.0 L382.4,234.5 L383.2,235.0 L384.1,235.5 L385.0,236.0 L385.9,236.5 L386.7,237.0 L387.6,237.4 L388.5,237.9 L389.4,238.4 L390.2,238.9 L391.1,239.4 L392.0,239.8 L392.9,240.3 L393.8,240.8 L394.7,241.2 L395.5,241.7 L396.4,242.2 L397.3,242.7 L398.2,243.1 L399.1,243.6 L400.0,244.1 L400.9,244.5 L401.7,245.0 L402.6,245.5 L403.5,245.9 L404.4,246.4 L405.3,246.9 L406.2,247.3 L407.0,247.8 L407.9,248.3 L408.8,248.8 L409.7,249.2 L410.6,249.7 L411.4,250.2 L412.3,250.7 L413.2,251.2 L414.0,251.7 L414.9,252.3 L415.7,252.8 L416.6,253.4 L417.4,253.9 L418.2,254.4 L419.1,255.0 L419.9,255.5 L420.8,256.1 L421.6,256.6 L422.5,257.1 L423.3,257.6 L424.2,258.1 L425.1,258.6 L426.0,259.1 L426.8,259.6 L427.7,260.0 L428.6,260.4 L429.6,260.8 L430.5,261.2 L431.4,261.6 L432.4,261.9 L433.3,262.2 L434.3,262.5 L435.2,262.8 L436.2,263.1 L437.1,263.4 L438.1,263.7 L439.1,264.0 L440.0,264.3 L441.0,264.5 L441.9,264.8 L442.9,265.1 L443.9,265.4 L444.8,265.7 L445.8,266.0 L446.7,266.3 L447.7,266.6 L448.6,266.9 L449.6,267.2 L450.6,267.5 L451.5,267.7 L452.5,268.0 L453.4,268.3 L454.4,268.6 L455.4,268.9 L456.3,269.1 L457.3,269.3 L458.3,269.6 L459.2,269.8 L460.2,270.0 L461.2,270.2 L462.2,270.4 L463.2,270.6 L464.1,270.8 L465.1,271.0 L466.1,271.2 L467.1,271.4 L468.1,271.6 L469.1,271.8 L470.1,271.9 L471.1,272.1 L472.0,272.2 L473.0,272.3 L474.0,272.3 L475.0,272.2 L476.0,272.0 L477.0,271.8 L478.0,271.6 L479.0,271.3 L479.9,271.0 L480.9,270.7 L481.9,270.5 L482.8,270.1 L483.7,269.8 L484.7,269.4 L485.6,269.0 L486.5,268.6 L487.4,268.1 L488.3,267.5 L489.1,266.9 L489.8,266.3 L490.6,265.6 L491.2,264.9 L491.8,264.0 L492.4,263.2 L492.9,262.3 L493.4,261.4 L493.8,260.4 L494.1,259.5 L494.5,258.6 L494.7,257.6 L494.9,256.6 L495.0,255.6 L495.2,254.6 L495.3,253.6 L495.4,252.7 L495.5,251.7 L495.6,250.7 L495.8,249.7 L495.9,248.7 L496.0,247.7 L496.1,246.7 L496.2,245.7 L496.3,244.7 L496.4,243.7 L496.5,242.7 L496.6,241.7 L496.7,240.7 L496.8,239.7 L496.9,238.7 L496.9,237.7 L497.0,236.7 L497.1,235.7 L497.2,234.7 L497.3,233.7 L497.4,232.7 L497.5,231.7 L497.6,230.7 L497.7,229.7 L497.8,228.8 L498.4,228.8 L498.4,378.0 L498.0,378.0 L498.0,377.0 L498.0,376.0 L497.9,375.0 L497.9,373.9 L497.8,372.9 L497.7,371.9 L497.6,371.0 L497.5,370.0 L497.3,369.0 L497.2,368.0 L497.0,367.0 L496.8,366.0 L496.6,365.1 L496.3,364.1 L496.1,363.1 L495.8,362.1 L495.5,361.2 L495.2,360.2 L494.9,359.3 L494.6,358.3 L494.2,357.4 L493.8,356.5 L493.4,355.6 L493.0,354.7 L492.5,353.8 L492.0,352.9 L491.5,352.0 L491.0,351.1 L490.5,350.3 L490.0,349.4 L489.5,348.5 L489.0,347.7 L488.5,346.8 L488.0,346.0 L487.4,345.1 L486.9,344.3 L486.4,343.4 L485.9,342.6 L485.3,341.7 L484.8,340.9 L484.2,340.1 L483.7,339.2 L483.1,338.4 L482.6,337.5 L482.1,336.7 L481.5,335.8 L481.0,335.0 L480.4,334.2 L479.9,333.3 L479.3,332.5 L478.7,331.7 L478.1,330.9 L477.6,330.1 L477.0,329.3 L476.4,328.5 L475.8,327.7 L475.1,326.9 L474.5,326.1 L473.9,325.3 L473.3,324.5 L472.7,323.7 L472.1,322.9 L471.5,322.1 L470.9,321.3 L470.3,320.5 L469.7,319.7 L469.1,318.9 L468.5,318.1 L467.9,317.3 L467.3,316.5 L466.7,315.7 L466.1,314.9 L465.5,314.1 L464.9,313.3 L464.3,312.5 L463.7,311.7 L463.1,310.9 L462.5,310.1 L461.9,309.3 L461.3,308.5 L460.7,307.7 L460.1,306.9 L459.5,306.1 L458.9,305.3 L458.3,304.5 L457.7,303.7 L457.1,302.9 L456.5,302.1 L455.9,301.3 L455.3,300.5 L454.7,299.7 L454.0,298.9 L453.4,298.1 L452.8,297.4 L452.1,296.6 L451.5,295.8 L450.7,295.1 L450.0,294.5 L449.2,293.9 L448.4,293.3 L447.5,292.7 L446.7,292.2 L445.8,291.7 L444.9,291.2 L444.0,290.8 L443.1,290.3 L442.2,289.8 L441.3,289.4 L440.4,289.0 L439.4,288.6 L438.5,288.2 L437.6,287.8 L436.6,287.5 L435.7,287.1 L434.8,286.7 L433.9,286.3 L433.0,285.9 L432.0,285.5 L431.1,285.1 L430.3,284.6 L429.4,284.2 L428.5,283.7 L427.6,283.2 L426.8,282.7 L425.9,282.2 L425.0,281.7 L424.2,281.2 L423.3,280.7 L422.4,280.2 L421.6,279.7 L420.7,279.2 L419.8,278.7 L419.0,278.2 L418.1,277.7 L417.2,277.2 L416.4,276.7 L415.5,276.2 L414.6,275.7 L413.7,275.2 L412.9,274.7 L412.0,274.2 L411.1,273.8 L410.2,273.3 L409.3,272.9 L408.4,272.4 L407.5,271.9 L406.7,271.5 L405.8,271.0 L404.9,270.6 L404.0,270.1 L403.1,269.6 L402.2,269.2 L401.3,268.7 L400.4,268.3 L399.5,267.8 L398.7,267.3 L397.8,266.9 L396.9,266.4 L396.0,266.0 L395.1,265.5 L394.2,265.0 L393.3,264.6 L392.4,264.1 L391.5,263.7 L390.6,263.2 L389.8,262.7 L388.9,262.3 L388.0,261.8 L387.1,261.4 L386.2,260.9 L385.3,260.5 L384.4,260.0 L383.5,259.5 L382.6,259.1 L381.7,258.6 L380.9,258.2 L380.0,257.7 L379.1,257.3 L378.2,256.8 L377.3,256.4 L376.4,255.9 L375.5,255.4 L374.6,255.0 L373.7,254.5 L372.8,254.1 L371.9,253.6 L371.0,253.2 L370.2,252.7 L369.3,252.3 L368.4,251.8 L367.5,251.3 L366.6,250.9 L365.7,250.4 L364.8,250.0 L363.9,249.5 L363.0,249.1 L362.1,248.6 L361.3,248.1 L360.4,247.7 L359.5,247.2 L358.6,246.8 L357.7,246.3 L356.8,245.8 L355.9,245.4 L355.0,244.9 L354.2,244.4 L353.3,244.0 L352.4,243.5 L351.5,243.0 L350.6,242.5 L349.7,242.1 L348.9,241.6 L348.0,241.1 L347.1,240.7 L346.2,240.2 L345.3,239.7 L344.5,239.2 L343.6,238.7 L342.7,238.2 L341.9,237.7 L341.0,237.2 L340.1,236.7 L339.2,236.2 L338.4,235.8 L337.5,235.3 L336.6,234.8 L335.7,234.4 L334.8,233.9 L333.9,233.5 L333.0,233.0 L332.1,232.6 L331.2,232.2 L330.3,231.7 L329.4,231.3 L328.5,230.9 L327.6,230.4 L326.7,230.0 L325.8,229.6 L324.9,229.2 L324.0,228.7 L323.1,228.3 L322.2,227.9 L321.3,227.4 L320.4,227.0 L319.5,226.5 L318.6,226.1 L317.7,225.6 L316.8,225.2 L315.9,224.7 L315.0,224.3 L314.1,223.8 L313.2,223.4 L312.3,223.0 L311.4,222.6 L310.5,222.2 L309.5,221.8 L308.6,221.4 L307.7,221.1 L306.7,220.7 L305.8,220.3 L304.9,220.0 L304.0,219.6 L303.0,219.2 L302.1,218.8 L301.2,218.5 L300.2,218.1 L299.3,217.7 L298.4,217.4 L297.5,217.0 L296.5,216.6 L295.6,216.2 L294.7,215.9 L293.7,215.5 L292.8,215.1 L291.9,214.8 L290.9,214.4 L290.0,214.0 L289.1,213.6 L288.2,213.3 L287.2,212.9 L286.3,212.5 L285.4,212.1 L284.4,211.8 L283.5,211.4 L282.6,211.0 L281.7,210.7 L280.7,210.3 L279.8,209.9 L278.9,209.5 L277.9,209.2 L277.0,208.8 L276.1,208.4 L275.1,208.1 L274.2,207.7 L273.3,207.3 L272.4,206.9 L271.4,206.6 L270.5,206.2 L269.6,205.8 L268.6,205.5 L267.7,205.1 L266.8,204.7 L265.9,204.3 L264.9,204.0 L264.0,203.6 L263.1,203.2 L262.1,202.9 L261.2,202.5 L260.3,202.1 L259.4,201.7 L258.4,201.4 L257.5,201.0 L256.6,200.6 L255.6,200.3 L254.7,199.9 L253.8,199.5 L252.8,199.1 L251.9,198.8 L251.0,198.4 L250.1,198.0 L249.1,197.7 L248.2,197.3 L247.3,196.9 L246.3,196.6 L245.4,196.3 L244.4,195.9 L243.5,195.6 L242.5,195.3 L241.6,195.0 L240.6,194.7 L239.7,194.4 L238.7,194.1 L237.8,193.8 L236.8,193.5 L235.8,193.2 L234.9,193.0 L233.9,192.7 L232.9,192.5 L231.9,192.2 L231.0,192.0 L230.0,191.9 L229.0,191.7 L228.0,191.5 L227.0,191.4 L226.0,191.3 L225.0,191.1 L224.0,191.0 L223.0,190.9 L222.0,190.7 L221.0,190.6 L220.0,190.5 L219.0,190.4 L218.0,190.4 L217.0,190.3 L216.0,190.3 L215.0,190.2 L214.0,190.2 L213.0,190.2 L212.0,190.2 L211.0,190.3 L210.0,190.3 L209.0,190.4 L208.0,190.4 L207.1,190.5 L206.1,190.7 L205.1,190.8 L204.1,191.0 L203.1,191.2 L202.1,191.5 L201.2,191.7 L200.2,192.0 L199.2,192.3 L198.3,192.7 L197.3,193.1 L196.4,193.5 L195.5,193.9 L194.6,194.3 L193.7,194.8 L192.8,195.3 L191.9,195.7 L191.1,196.2 L190.2,196.7 L189.4,197.3 L188.5,197.8 L187.7,198.4 L186.8,198.9 L186.0,199.4 L185.2,200.0 L184.3,200.6 L183.5,201.2 L182.7,201.7 L181.9,202.4 L181.1,203.0 L180.4,203.6 L179.6,204.3 L178.8,204.9 L178.1,205.6 L177.3,206.3 L176.6,207.0 L175.9,207.7 L175.2,208.4 L174.5,209.1 L173.8,209.9 L173.2,210.6 L172.5,211.4 L171.9,212.1 L171.3,212.9 L170.7,213.8 L170.1,214.6 L169.5,215.4 L169.0,216.2 L168.4,217.1 L167.8,217.9 L167.3,218.7 L166.7,219.6 L166.2,220.4 L165.7,221.2 L165.1,222.1 L164.6,222.9 L164.1,223.8 L163.6,224.7 L163.1,225.5 L162.6,226.4 L162.0,227.2 L161.5,228.1 L161.0,229.0 L160.5,229.8 L160.0,230.7 L159.5,231.5 L159.0,232.4 L158.5,233.3 L158.0,234.2 L157.5,235.0 L157.1,235.9 L156.6,236.8 L156.1,237.7 L155.7,238.6 L155.2,239.5 L154.8,240.4 L154.4,241.3 L153.9,242.2 L153.5,243.1 L153.1,244.0 L152.7,244.9 L152.3,245.9 L151.9,246.8 L151.5,247.7 L151.1,248.6 L150.7,249.5 L150.4,250.5 L150.0,251.4 L149.6,252.3 L149.3,253.3 L148.9,254.2 L148.6,255.1 L148.2,256.1 L147.9,257.0 L147.5,258.0 L147.2,258.9 L146.9,259.9 L146.5,260.8 L146.2,261.7 L145.9,262.7 L145.5,263.6 L145.2,264.6 L144.9,265.5 L144.5,266.5 L144.2,267.4 L143.9,268.3 L143.5,269.3 L143.2,270.2 L142.8,271.2 L142.5,272.1 L142.1,273.0 L141.7,274.0 L141.4,274.9 L141.0,275.8 L140.7,276.8 L140.3,277.7 L139.9,278.6 L139.6,279.6 L139.2,280.5 L138.9,281.4 L138.5,282.4 L138.1,283.3 L137.8,284.2 L137.4,285.2 L137.1,286.1 L136.7,287.0 L136.4,288.0 L136.0,288.9 L135.7,289.9 L135.3,290.8 L134.9,291.7 L134.6,292.6 L134.2,293.6 L133.8,294.5 L133.4,295.4 L133.1,296.4 L132.7,297.3 L132.3,298.2 L131.9,299.1 L131.6,300.1 L131.2,301.0 L130.8,301.9 L130.5,302.9 L130.1,303.8 L129.7,304.7 L129.3,305.7 L129.0,306.6 L128.6,307.5 L128.2,308.4 L127.9,309.4 L127.5,310.3 L127.1,311.2 L126.7,312.2 L126.4,313.1 L126.0,314.0 L125.7,315.0 L125.3,315.9 L125.0,316.8 L124.7,317.8 L124.3,318.7 L124.0,319.7 L123.7,320.6 L123.4,321.6 L123.1,322.5 L122.8,323.5 L122.5,324.4 L122.2,325.4 L121.9,326.4 L121.6,327.3 L121.3,328.3 L121.0,329.2 L120.7,330.2 L120.4,331.2 L120.1,332.1 L119.9,333.1 L119.6,334.0 L119.3,335.0 L119.1,336.0 L118.8,336.9 L118.5,337.9 L118.2,338.9 L118.0,339.8 L117.7,340.8 L117.4,341.8 L117.2,342.7 L116.9,343.7 L116.7,344.7 L116.4,345.6 L116.1,346.6 L115.9,347.5 L115.6,348.5 L115.3,349.5 L115.1,350.4 L114.8,351.4 L114.5,352.4 L114.2,353.3 L114.0,354.3 L113.7,355.3 L113.4,356.2 L113.2,357.2 L112.9,358.2 L112.6,359.1 L112.4,360.1 L112.1,361.0 L111.8,362.0 L111.6,363.0 L111.3,363.9 L111.0,364.9 L110.7,365.9 L110.5,366.8 L110.2,367.8 L109.9,368.8 L109.7,369.7 L109.4,370.7 L109.1,371.7 L108.9,372.6 L108.6,373.6 L108.3,374.5 L108.1,375.5 L107.8,376.5 L107.6,377.4 L107.3,378.4 L107.0,379.4 L106.8,380.3 L106.5,381.3 L106.3,382.3 L106.0,383.2 L105.7,384.2 L105.5,385.2 L105.2,386.1 L105.0,387.1 L104.7,388.1 L104.5,389.1 L104.2,390.0 L104.0,391.0 L103.7,392.0 L103.5,392.9 L103.2,393.9 L103.0,394.9 L102.7,395.8 L102.5,396.8 L102.2,397.8 L102.0,398.7 L101.7,399.7 L101.5,400.7 L101.2,401.7 L101.0,402.6 L100.7,403.6 L100.5,404.6 L100.2,405.5 L100.0,406.5 L99.7,407.5 L99.5,408.4 L99.2,409.4 L99.0,410.4 L98.7,411.3 L98.5,412.3 L98.2,413.3 L98.0,414.3 L97.7,415.2 L97.5,416.2 L97.2,417.2 L97.0,418.1 L96.7,419.1 L96.5,420.1 L96.2,421.0 L95.9,422.0 L95.7,423.0 L95.4,423.9 L95.2,424.9 L94.9,425.9 L94.7,426.8 L94.4,427.8 L94.1,428.8 L93.9,429.7 L93.6,430.7 L93.3,431.7 L93.1,432.6 L92.8,433.6 L92.6,434.6 L92.3,435.5 L92.0,436.5 L91.8,437.5 L91.5,438.4 L91.2,439.4 L91.0,440.4 L90.7,441.3 L90.4,442.3 L90.2,443.2 L89.9,444.2 L89.6,445.2 L89.4,446.1 L89.1,447.1 L88.8,448.1 L88.5,449.0 L88.3,450.0 L88.0,451.0 L87.7,451.9 L87.5,452.9 L87.2,453.8 L86.9,454.8 L86.6,455.8 L86.4,456.7 L86.1,457.7 L85.8,458.7 L85.6,459.6 L85.3,460.6 L85.0,461.6 L84.7,462.5 L84.5,463.5 L84.2,464.4 L83.9,465.4Z" fill="#f81818" fill-opacity="0.46"/>
<path d="M83.6,465.2 L84.0,463.8 L84.4,462.3 L84.8,460.9 L85.2,459.4 L85.6,458.0 L86.0,456.6 L86.4,455.1 L86.8,453.7 L87.2,452.2 L87.6,450.8 L88.0,449.3 L88.4,447.9 L88.7,446.4 L89.1,444.9 L89.5,443.5 L89.9,442.0 L90.3,440.6 L90.7,439.1 L91.0,437.7 L91.4,436.2 L91.8,434.8 L92.2,433.3 L92.6,431.9 L93.0,430.4 L93.3,429.0 L93.7,427.5 L94.1,426.1 L94.5,424.6 L94.8,423.1 L95.2,421.7 L95.6,420.2 L95.9,418.8 L96.3,417.3 L96.7,415.9 L97.0,414.4 L97.4,413.0 L97.8,411.5 L98.1,410.0 L98.5,408.6 L98.9,407.1 L99.2,405.7 L99.6,404.2 L100.0,402.8 L100.3,401.3 L100.7,399.8 L101.0,398.4 L101.4,396.9 L101.8,395.5 L102.1,394.0 L102.5,392.5 L102.8,391.1 L103.2,389.6 L103.6,388.2 L103.9,386.7 L104.3,385.3 L104.6,383.8 L105.0,382.3 L105.4,380.9 L105.8,379.4 L106.1,378.0 L106.5,376.5 L106.9,375.1 L107.2,373.6 L107.6,372.1 L108.0,370.7 L108.4,369.2 L108.7,367.8 L109.1,366.3 L109.5,364.9 L109.9,363.4 L110.2,362.0 L110.6,360.5 L111.0,359.1 L111.4,357.6 L111.8,356.1 L112.1,354.7 L112.5,353.2 L112.9,351.8 L113.3,350.3 L113.6,348.9 L114.0,347.4 L114.4,346.0 L114.8,344.5 L115.1,343.1 L115.5,341.6 L115.9,340.2 L116.3,338.7 L116.7,337.2 L117.1,335.8 L117.4,334.3 L117.8,332.9 L118.2,331.4 L118.6,330.0 L119.0,328.5 L119.4,327.1 L119.8,325.6 L120.2,324.2 L120.5,322.7 L120.9,321.3 L121.3,319.8 L121.7,318.4 L122.1,316.9 L122.5,315.5 L123.0,314.0 L123.4,312.6 L123.8,311.2 L124.2,309.7 L124.7,308.3 L125.1,306.9 L125.6,305.4 L126.0,304.0 L126.5,302.6 L126.9,301.1 L127.4,299.7 L127.8,298.2 L128.2,296.8 L128.7,295.4 L129.1,293.9 L129.6,292.5 L130.1,291.1 L130.5,289.7 L131.0,288.2 L131.5,286.8 L132.0,285.4 L132.5,284.0 L133.0,282.6 L133.5,281.1 L134.0,279.7 L134.4,278.3 L134.9,276.9 L135.3,275.4 L135.8,274.0 L136.2,272.6 L136.7,271.1 L137.1,269.7 L137.5,268.2 L137.9,266.8 L138.3,265.4 L138.7,263.9 L139.1,262.5 L139.5,261.0 L140.0,259.6 L140.4,258.1 L140.8,256.7 L141.3,255.3 L141.8,253.9 L142.3,252.4 L142.8,251.0 L143.3,249.6 L143.8,248.2 L144.4,246.8 L144.9,245.4 L145.5,244.0 L146.1,242.6 L146.7,241.2 L147.2,239.9 L147.8,238.5 L148.4,237.1 L149.0,235.7 L149.4,234.8 L150.0,233.4 L150.5,232.0 L151.1,230.7 L151.7,229.3 L152.3,227.9 L153.0,226.5 L153.6,225.2 L154.2,223.8 L154.8,222.4 L155.4,221.1 L156.1,219.7 L156.7,218.3 L157.3,217.0 L158.0,215.6 L158.6,214.3 L159.3,212.9 L160.0,211.6 L160.7,210.3 L161.4,208.9 L162.2,207.6 L162.9,206.4 L163.7,205.1 L164.6,203.8 L165.4,202.6 L166.3,201.3 L167.1,200.1 L168.0,198.9 L168.9,197.7 L169.9,196.5 L170.5,195.7 L171.5,194.5 L172.5,193.4 L173.4,192.2 L174.4,191.1 L175.4,190.0 L176.5,188.9 L177.5,187.8 L178.5,186.7 L179.6,185.7 L180.4,184.8 L181.5,183.8 L182.6,182.8 L183.8,181.8 L185.0,180.8 L186.2,179.9 L187.2,179.1 L188.4,178.3 L189.7,177.5 L191.1,176.8 L192.4,176.1 L193.6,175.6 L195.0,175.0 L196.4,174.5 L197.8,174.0 L199.3,173.6 L200.8,173.2 L202.2,172.9 L203.6,172.6 L205.0,172.3 L206.5,172.0 L208.0,171.8 L209.5,171.7 L211.0,171.6 L212.5,171.5 L214.0,171.4 L215.5,171.3 L217.0,171.4 L218.5,171.4 L220.0,171.5 L221.5,171.7 L223.0,171.9 L224.5,172.1 L226.0,172.3 L227.5,172.5 L228.9,172.7 L230.4,172.9 L231.9,173.2 L233.4,173.5 L234.9,173.7 L236.3,174.0 L237.8,174.3 L239.3,174.5 L240.8,174.8 L242.3,175.1 L243.7,175.4 L245.2,175.7 L246.7,176.0 L248.1,176.4 L249.6,176.9 L251.0,177.3 L252.4,177.8 L253.8,178.3 L255.3,178.8 L256.7,179.2 L258.1,179.7 L259.5,180.2 L261.0,180.7 L262.4,181.1 L263.8,181.6 L265.2,182.1 L266.7,182.6 L268.1,183.0 L269.5,183.5 L270.9,184.0 L272.4,184.5 L273.8,184.9 L275.2,185.4 L276.6,185.9 L278.1,186.4 L279.5,186.8 L280.9,187.3 L282.3,187.8 L283.7,188.3 L285.2,188.8 L286.6,189.3 L288.0,189.9 L289.4,190.4 L290.8,190.9 L292.2,191.4 L293.6,192.0 L295.0,192.5 L296.4,193.0 L297.8,193.6 L299.2,194.1 L300.6,194.7 L302.0,195.2 L303.4,195.8 L304.8,196.3 L306.2,196.8 L307.6,197.4 L309.0,197.9 L310.4,198.5 L311.8,199.0 L313.3,199.5 L314.7,199.9 L316.1,200.4 L317.5,200.9 L319.0,201.3 L320.4,201.8 L321.8,202.3 L323.2,202.9 L324.6,203.4 L326.0,204.0 L327.4,204.6 L328.8,205.2 L330.1,205.8 L331.5,206.4 L332.8,207.1 L334.2,207.8 L335.5,208.5 L336.8,209.2 L338.2,209.9 L339.5,210.6 L340.8,211.3 L342.2,212.0 L343.5,212.7 L344.8,213.4 L346.1,214.1 L347.4,214.8 L348.8,215.6 L350.1,216.3 L351.4,217.0 L352.7,217.7 L354.0,218.4 L355.4,219.1 L356.7,219.9 L358.0,220.6 L359.3,221.3 L360.6,222.0 L361.9,222.8 L363.2,223.5 L364.6,224.3 L365.9,225.0 L367.2,225.7 L368.5,226.5 L369.8,227.2 L371.1,228.0 L372.4,228.7 L373.7,229.5 L375.0,230.3 L376.3,231.0 L377.6,231.8 L378.9,232.5 L380.2,233.3 L381.5,234.0 L382.8,234.7 L384.1,235.5 L385.4,236.2 L386.7,237.0 L388.0,237.7 L389.3,238.4 L390.7,239.1 L392.0,239.8 L393.3,240.5 L394.7,241.2 L396.0,241.9 L397.3,242.6 L398.6,243.3 L400.0,244.0 L401.3,244.7 L402.6,245.4 L404.0,246.1 L405.3,246.8 L406.6,247.5 L407.9,248.3 L409.2,249.0 L410.6,249.7 L411.9,250.5 L413.2,251.2 L414.4,252.0 L415.7,252.8 L417.0,253.6 L418.3,254.4 L419.5,255.2 L420.8,256.0 L422.1,256.8 L423.4,257.6 L424.6,258.4 L425.9,259.1 L427.2,259.9 L428.5,260.7 L429.8,261.4 L431.1,262.1 L432.5,262.8 L433.8,263.5 L435.1,264.2 L436.5,264.9 L437.8,265.6 L439.2,266.2 L440.5,266.9 L441.8,267.6 L443.1,268.3 L444.5,269.1 L445.8,269.8 L447.1,270.5 L448.4,271.3 L449.7,272.0 L451.0,272.7 L452.3,273.5 L453.6,274.2 L454.9,275.0 L456.2,275.7 L457.5,276.5 L458.8,277.3 L460.0,278.2 L461.3,279.0 L462.5,279.8 L463.8,280.6 L465.0,281.5 L466.3,282.3 L467.6,283.1 L468.9,283.8 L470.2,284.6 L471.5,285.3 L472.9,286.0 L474.2,286.7 L475.6,287.3 L477.0,287.9 L478.4,288.4 L479.8,288.9 L481.2,289.4 L482.7,289.8 L484.1,290.2 L485.5,290.6 L487.0,291.0 L488.4,291.4 L489.9,291.8 L491.3,292.2 L492.8,292.6 L494.3,293.0 L495.7,293.3 L497.2,293.7 L498.6,294.0 L500.1,294.4 L501.6,294.7 L503.0,295.0 L504.5,295.3 L506.0,295.6 L507.4,295.9 L508.9,296.2 L510.4,296.5 L511.9,296.8 L513.3,297.1 L514.8,297.4 L516.3,297.7 L517.8,298.0 L519.2,298.3 L520.7,298.6 L522.2,298.8 L523.7,299.1 L525.1,299.4 L526.6,299.7 L528.1,300.0 L529.6,300.3 L531.0,300.6 L532.5,300.9 L534.0,301.1 L535.5,301.4 L536.9,301.7 L538.4,302.0 L539.9,302.3 L541.4,302.5 L542.8,302.8 L544.3,303.1 L545.8,303.3 L547.3,303.6 L548.8,303.8 L550.2,304.1 L551.7,304.3 L553.2,304.5 L554.7,304.7 L556.2,304.9 L557.7,305.1 L559.2,305.3 L560.7,305.5 L562.2,305.7 L563.6,305.9 L565.1,306.1 L566.6,306.2 L568.1,306.4 L569.6,306.6 L571.1,306.8 L572.6,307.0 L574.1,307.1 L575.6,307.3 L577.1,307.5 L578.6,307.7 L580.1,307.8 L581.5,308.0 L583.0,308.2 L584.5,308.4 L586.0,308.5 L587.5,308.7 L589.0,308.9 L590.5,309.1 L592.0,309.2 L593.5,309.4 L595.0,309.6 L596.5,309.8 L598.0,309.9 L599.5,310.1 L600.9,310.3 L602.4,310.4 L603.9,310.6 L605.4,310.8 L606.9,311.0 L608.4,311.1 L609.9,311.3 L611.4,311.5 L612.9,311.6 L614.4,311.8 L615.9,311.9 L617.4,312.0 L618.9,312.2 L620.4,312.3 L621.9,312.4 L623.4,312.6 L624.9,312.7 L626.4,312.8 L627.9,312.9 L629.4,313.0 L630.9,313.1 L632.4,313.2 L633.9,313.3 L635.4,313.4 L636.9,313.5 L638.4,313.6 L639.9,313.7 L641.4,313.8 L642.9,313.9 L644.4,314.0 L645.9,314.1 L647.4,314.2 L648.9,314.2 L650.4,314.3 L651.9,314.4 L653.4,314.5 L654.9,314.6 L656.4,314.6 L657.9,314.7 L659.4,314.8 L660.9,314.9 L662.4,314.9 L663.9,315.0 L665.4,315.1 L666.9,315.1 L668.4,315.2 L669.9,315.3 L671.4,315.3 L672.9,315.4 L674.4,315.5 L675.9,315.5 L677.4,315.6 L678.9,315.6 L680.4,315.7 L681.9,315.7 L683.4,315.8 L684.9,315.8 L686.4,315.9 L687.9,315.9 L689.4,316.0 L690.9,316.0 L692.4,316.1 L693.9,316.1 L695.4,316.1 L696.9,316.2 L698.4,316.2 L699.9,316.2 L701.4,316.3 L702.9,316.3 L702.9,317.8 L701.4,317.8 L699.9,317.9 L698.4,317.9 L696.9,317.9 L695.4,317.9 L693.9,318.0 L692.4,318.0 L690.9,318.0 L689.4,318.0 L687.9,318.1 L686.4,318.1 L684.9,318.1 L683.4,318.1 L681.9,318.2 L680.4,318.2 L678.9,318.2 L677.4,318.3 L675.9,318.3 L674.4,318.3 L672.9,318.3 L671.4,318.4 L669.9,318.4 L668.4,318.4 L666.9,318.5 L665.4,318.5 L663.9,318.5 L662.4,318.6 L660.9,318.6 L659.4,318.6 L657.9,318.6 L656.4,318.7 L654.9,318.7 L653.4,318.7 L651.9,318.8 L650.4,318.8 L648.9,318.8 L647.4,318.9 L645.9,318.9 L644.4,318.9 L642.8,318.9 L641.3,319.0 L639.8,319.0 L638.3,319.0 L636.8,319.1 L635.3,319.1 L633.8,319.1 L632.3,319.2 L630.8,319.2 L629.3,319.2 L627.8,319.3 L626.3,319.3 L624.8,319.3 L623.3,319.4 L621.8,319.4 L620.3,319.4 L618.8,319.5 L617.3,319.5 L615.8,319.6 L614.3,319.6 L612.8,319.6 L611.3,319.7 L609.8,319.7 L608.3,319.7 L606.8,319.8 L605.3,319.8 L603.8,319.9 L602.3,319.9 L600.8,319.9 L599.3,320.0 L597.8,320.0 L596.3,320.1 L594.8,320.1 L593.3,320.2 L591.8,320.2 L590.3,320.2 L588.8,320.3 L587.3,320.3 L585.8,320.4 L584.3,320.4 L582.8,320.4 L581.3,320.5 L579.8,320.5 L578.3,320.6 L576.8,320.6 L575.3,320.7 L573.8,320.7 L572.3,320.8 L570.8,320.8 L569.3,320.8 L567.8,320.9 L566.3,320.9 L564.8,321.0 L563.3,321.0 L561.8,321.1 L560.3,321.1 L558.8,321.2 L557.3,321.2 L555.8,321.2 L554.3,321.3 L552.8,321.3 L551.3,321.4 L549.8,321.4 L548.3,321.5 L546.8,321.5 L545.3,321.5 L543.8,321.6 L542.3,321.6 L540.8,321.7 L539.3,321.7 L537.8,321.8 L536.3,321.8 L534.8,321.9 L533.3,321.9 L531.8,322.0 L530.3,322.0 L528.8,322.1 L527.3,322.1 L525.8,322.2 L524.3,322.2 L522.8,322.3 L521.3,322.3 L519.8,322.4 L518.3,322.4 L516.8,322.5 L515.3,322.5 L513.8,322.6 L512.3,322.6 L510.8,322.7 L509.3,322.7 L507.8,322.7 L506.3,322.8 L504.8,322.8 L503.3,322.9 L501.8,322.9 L500.3,323.0 L498.8,323.0 L497.3,322.9 L495.8,322.6 L494.4,322.1 L492.9,321.6 L491.5,321.2 L490.1,320.7 L488.6,320.2 L487.2,319.7 L485.8,319.2 L484.4,318.7 L483.0,318.2 L481.6,317.6 L480.2,317.1 L478.8,316.5 L477.4,316.0 L475.9,315.4 L474.5,314.9 L473.2,314.2 L471.9,313.4 L470.7,312.6 L469.5,311.6 L468.4,310.6 L467.4,309.5 L466.3,308.5 L465.2,307.5 L464.1,306.5 L463.0,305.4 L461.9,304.4 L460.8,303.4 L459.7,302.4 L458.6,301.3 L457.5,300.3 L456.4,299.3 L455.3,298.3 L454.2,297.2 L453.0,296.3 L451.8,295.4 L450.6,294.5 L449.3,293.7 L448.0,293.0 L446.7,292.2 L445.4,291.5 L444.0,290.8 L442.7,290.1 L441.3,289.4 L440.0,288.8 L438.6,288.2 L437.2,287.7 L435.8,287.1 L434.4,286.5 L433.0,286.0 L431.6,285.3 L430.3,284.7 L429.0,283.9 L427.7,283.2 L426.4,282.5 L425.1,281.7 L423.8,281.0 L422.5,280.2 L421.2,279.5 L419.9,278.7 L418.6,278.0 L417.3,277.2 L416.0,276.5 L414.7,275.7 L413.3,275.0 L412.0,274.3 L410.7,273.6 L409.4,272.9 L408.0,272.2 L406.7,271.5 L405.4,270.8 L404.0,270.1 L402.7,269.4 L401.4,268.7 L400.0,268.0 L398.7,267.4 L397.4,266.7 L396.0,266.0 L394.7,265.3 L393.4,264.6 L392.0,263.9 L390.7,263.2 L389.4,262.5 L388.0,261.9 L386.7,261.2 L385.4,260.5 L384.0,259.8 L382.7,259.1 L381.3,258.4 L380.0,257.7 L378.7,257.1 L377.3,256.4 L376.0,255.7 L374.7,255.0 L373.3,254.3 L372.0,253.6 L370.6,253.0 L369.3,252.3 L368.0,251.6 L366.6,250.9 L365.3,250.2 L364.0,249.5 L362.6,248.9 L361.3,248.2 L360.0,247.5 L358.6,246.8 L357.3,246.1 L356.0,245.4 L354.6,244.7 L353.3,244.0 L352.0,243.3 L350.7,242.6 L349.3,241.9 L348.0,241.1 L346.7,240.4 L345.4,239.7 L344.1,239.0 L342.8,238.2 L341.5,237.5 L340.2,236.8 L338.8,236.0 L337.5,235.3 L336.2,234.6 L334.9,233.9 L333.5,233.3 L332.2,232.6 L330.8,232.0 L329.4,231.3 L328.1,230.7 L326.7,230.0 L325.4,229.4 L324.0,228.8 L322.7,228.1 L321.3,227.5 L320.0,226.8 L318.6,226.1 L317.3,225.4 L315.9,224.7 L314.6,224.1 L313.2,223.4 L311.9,222.8 L310.5,222.2 L309.1,221.6 L307.7,221.1 L306.3,220.5 L304.9,220.0 L303.5,219.4 L302.1,218.9 L300.7,218.3 L299.3,217.7 L298.0,217.2 L296.6,216.6 L295.2,216.1 L293.8,215.5 L292.4,215.0 L291.0,214.4 L289.6,213.8 L288.2,213.3 L286.8,212.7 L285.4,212.2 L284.0,211.6 L282.6,211.0 L281.2,210.5 L279.8,209.9 L278.4,209.4 L277.0,208.8 L275.6,208.3 L274.3,207.7 L272.9,207.1 L271.5,206.6 L270.1,206.0 L268.7,205.5 L267.3,204.9 L265.9,204.4 L264.5,203.8 L263.1,203.2 L261.7,202.7 L260.3,202.1 L258.9,201.6 L257.5,201.0 L256.1,200.5 L254.7,199.9 L253.3,199.3 L251.9,198.8 L250.6,198.2 L249.2,197.7 L247.8,197.1 L246.4,196.6 L244.9,196.1 L243.5,195.6 L242.1,195.2 L240.7,194.7 L239.2,194.2 L237.8,193.8 L236.3,193.4 L234.9,193.0 L233.4,192.6 L232.0,192.3 L230.5,192.0 L229.0,191.7 L227.5,191.5 L226.0,191.3 L224.6,191.1 L223.1,190.9 L221.6,190.7 L220.1,190.5 L218.6,190.4 L217.1,190.3 L215.6,190.3 L214.1,190.2 L212.6,190.0 L211.1,189.9 L209.6,189.9 L208.0,189.9 L206.5,189.9 L204.9,190.1 L203.4,190.2 L201.9,190.5 L200.5,190.8 L198.8,191.2 L197.3,191.7 L195.9,192.2 L194.3,192.8 L192.9,193.4 L191.4,194.2 L190.1,195.0 L188.7,195.7 L187.4,196.5 L186.1,197.3 L184.9,198.1 L183.4,199.2 L182.2,200.0 L181.0,200.9 L179.8,201.9 L178.7,202.9 L177.5,203.9 L176.4,204.9 L175.4,206.0 L174.3,207.0 L173.3,208.1 L172.3,209.3 L171.3,210.4 L170.4,211.6 L169.5,212.8 L168.5,214.4 L167.6,215.6 L166.8,216.9 L166.0,218.2 L165.2,219.4 L164.4,220.7 L163.6,222.0 L162.8,223.3 L162.1,224.6 L161.3,225.9 L160.5,227.2 L159.8,228.5 L159.0,229.8 L158.3,231.1 L157.5,232.4 L156.8,233.7 L156.1,235.0 L155.4,236.3 L154.7,237.7 L154.0,239.0 L153.3,240.4 L152.7,241.7 L152.0,243.1 L151.4,244.4 L150.8,245.8 L150.2,247.2 L149.6,248.6 L149.0,250.0 L148.5,251.4 L147.9,252.8 L147.4,254.2 L146.9,255.6 L146.3,257.0 L145.8,258.4 L145.3,259.8 L144.8,261.2 L144.3,262.6 L143.8,264.0 L143.3,265.5 L142.8,266.9 L142.3,268.3 L141.8,269.7 L141.2,271.1 L140.7,272.5 L140.2,273.9 L139.6,275.3 L139.1,276.7 L138.6,278.1 L138.0,279.5 L137.5,280.9 L137.0,282.3 L136.4,283.7 L135.9,285.1 L135.4,286.6 L134.9,288.0 L134.3,289.4 L133.8,290.8 L133.3,292.2 L132.8,293.6 L132.2,295.0 L131.7,296.4 L131.2,297.8 L130.7,299.2 L130.1,300.6 L129.6,302.0 L129.1,303.4 L128.6,304.8 L128.0,306.2 L127.5,307.6 L127.0,309.1 L126.5,310.5 L126.0,311.9 L125.5,313.3 L125.0,314.7 L124.5,316.1 L124.1,317.6 L123.6,319.0 L123.1,320.4 L122.7,321.9 L122.2,323.3 L121.8,324.7 L121.4,326.2 L121.0,327.6 L120.5,329.1 L120.1,330.5 L119.7,331.9 L119.3,333.4 L118.9,334.8 L118.5,336.3 L118.1,337.7 L117.7,339.2 L117.3,340.6 L116.9,342.1 L116.5,343.5 L116.1,345.0 L115.7,346.4 L115.3,347.9 L114.9,349.3 L114.5,350.8 L114.1,352.2 L113.7,353.7 L113.3,355.1 L112.9,356.6 L112.5,358.0 L112.1,359.5 L111.8,360.9 L111.4,362.4 L111.0,363.8 L110.6,365.3 L110.2,366.7 L109.8,368.2 L109.4,369.6 L109.0,371.1 L108.6,372.5 L108.2,374.0 L107.8,375.4 L107.4,376.9 L107.1,378.3 L106.7,379.8 L106.3,381.2 L105.9,382.7 L105.5,384.1 L105.2,385.6 L104.8,387.0 L104.4,388.5 L104.0,389.9 L103.7,391.4 L103.3,392.8 L102.9,394.3 L102.5,395.7 L102.2,397.2 L101.8,398.7 L101.4,400.1 L101.0,401.6 L100.7,403.0 L100.3,404.5 L99.9,405.9 L99.5,407.4 L99.2,408.8 L98.8,410.3 L98.4,411.7 L98.0,413.2 L97.6,414.6 L97.3,416.1 L96.9,417.6 L96.5,419.0 L96.1,420.5 L95.7,421.9 L95.4,423.4 L95.0,424.8 L94.6,426.3 L94.2,427.7 L93.8,429.2 L93.4,430.6 L93.0,432.1 L92.6,433.5 L92.2,435.0 L91.8,436.4 L91.5,437.9 L91.1,439.3 L90.7,440.8 L90.3,442.2 L89.9,443.7 L89.5,445.1 L89.1,446.6 L88.7,448.0 L88.3,449.5 L87.9,450.9 L87.5,452.4 L87.1,453.8 L86.7,455.2 L86.3,456.7 L85.9,458.1 L85.5,459.6 L85.1,461.0 L84.6,462.5 L84.2,463.9 L83.8,465.4Z" fill="#808080" fill-opacity="0.33"/>
<path d="M82.3,472.4 L82.5,471.4 L82.8,470.5 L83.0,469.5 L83.3,468.5 L83.5,467.5 L83.8,466.6 L84.0,465.6 L84.2,464.6 L84.5,463.7 L84.7,462.7 L85.0,461.7 L85.2,460.8 L85.5,459.8 L85.7,458.8 L86.0,457.9 L86.2,456.9 L86.4,455.9 L86.7,454.9 L86.9,454.0 L87.2,453.0 L87.4,452.0 L87.7,451.1 L87.9,450.1 L88.2,449.1 L88.4,448.2 L88.7,447.2 L88.9,446.2 L89.2,445.3 L89.4,444.3 L89.7,443.3 L90.0,442.4 L90.2,441.4 L90.5,440.4 L90.7,439.5 L91.0,438.5 L91.2,437.5 L91.5,436.6 L91.7,435.6 L92.0,434.6 L92.3,433.7 L92.5,432.7 L92.8,431.7 L93.0,430.8 L93.3,429.8 L93.5,428.8 L93.8,427.9 L94.0,426.9 L94.3,425.9 L94.5,425.0 L94.8,424.0 L95.1,423.0 L95.3,422.1 L95.6,421.1 L95.8,420.1 L96.1,419.2 L96.3,418.2 L96.6,417.2 L96.8,416.3 L97.1,415.3 L97.3,414.3 L97.6,413.3 L97.9,412.4 L98.1,411.4 L98.4,410.4 L98.6,409.5 L98.9,408.5 L99.1,407.5 L99.4,406.6 L99.6,405.6 L99.8,404.6 L100.1,403.7 L100.3,402.7 L100.6,401.7 L100.8,400.8 L101.0,399.8 L101.3,398.8 L101.5,397.8 L101.7,396.9 L102.0,395.9 L102.2,394.9 L102.4,393.9 L102.7,393.0 L102.9,392.0 L103.1,391.0 L103.3,390.0 L103.6,389.1 L103.8,388.1 L104.0,387.1 L104.3,386.2 L104.5,385.2 L104.7,384.2 L104.9,383.2 L105.2,382.3 L105.4,381.3 L105.6,380.3 L105.9,379.3 L106.1,378.4 L106.3,377.4 L106.6,376.4 L106.8,375.4 L107.0,374.5 L107.3,373.5 L107.5,372.5 L107.7,371.6 L108.0,370.6 L108.2,369.6 L108.4,368.6 L108.7,367.7 L108.9,366.7 L109.1,365.7 L109.4,364.8 L109.6,363.8 L109.8,362.8 L110.1,361.8 L110.3,360.9 L110.5,359.9 L110.8,358.9 L111.0,357.9 L111.2,357.0 L111.5,356.0 L111.7,355.0 L111.9,354.1 L112.2,353.1 L112.4,352.1 L112.6,351.1 L112.9,350.2 L113.1,349.2 L113.3,348.2 L113.5,347.2 L113.8,346.3 L114.0,345.3 L114.2,344.3 L114.4,343.3 L114.7,342.4 L114.9,341.4 L115.1,340.4 L115.3,339.4 L115.5,338.5 L115.8,337.5 L116.0,336.5 L116.2,335.5 L116.4,334.6 L116.6,333.6 L116.8,332.6 L117.0,331.6 L117.3,330.7 L117.5,329.7 L117.7,328.7 L117.9,327.7 L118.1,326.7 L118.3,325.8 L118.5,324.8 L118.8,323.8 L119.0,322.8 L119.2,321.9 L119.4,320.9 L119.6,319.9 L119.9,318.9 L120.1,318.0 L120.3,317.0 L120.5,316.0 L120.7,315.0 L121.0,314.1 L121.2,313.1 L121.5,312.1 L121.7,311.2 L121.9,310.2 L122.2,309.2 L122.4,308.2 L122.7,307.3 L122.9,306.3 L123.2,305.3 L123.4,304.4 L123.7,303.4 L123.9,302.4 L124.2,301.5 L124.5,300.5 L124.7,299.5 L125.0,298.6 L125.3,297.6 L125.5,296.7 L125.9,295.7 L126.2,294.8 L126.5,293.8 L126.9,292.9 L127.2,291.9 L127.6,291.0 L128.0,290.1 L128.3,289.2 L128.7,288.2 L129.1,287.3 L129.5,286.4 L129.8,285.4 L130.2,284.5 L130.5,283.6 L130.9,282.6 L131.2,281.7 L131.5,280.7 L131.8,279.8 L132.0,278.8 L132.2,277.8 L132.4,276.8 L132.6,275.8 L132.7,274.9 L132.9,273.9 L133.1,272.9 L133.3,271.9 L133.5,270.9 L133.8,270.0 L134.1,269.0 L134.4,268.1 L134.8,267.1 L135.1,266.2 L135.4,265.2 L135.7,264.3 L136.1,263.3 L136.4,262.4 L136.7,261.4 L137.0,260.5 L137.3,259.5 L137.6,258.6 L137.9,257.6 L138.2,256.7 L138.5,255.7 L138.8,254.8 L139.1,253.8 L139.4,252.9 L139.7,251.9 L140.0,251.0 L140.3,250.0 L140.6,249.1 L140.9,248.1 L141.2,247.1 L141.5,246.2 L141.8,245.2 L142.1,244.3 L142.4,243.3 L142.7,242.4 L143.0,241.4 L143.3,240.5 L143.7,239.5 L144.0,238.6 L144.3,237.6 L144.6,236.7 L145.0,235.8 L145.3,234.8 L145.7,233.9 L146.1,233.0 L146.5,232.0 L146.8,231.1 L147.2,230.2 L147.6,229.3 L148.0,228.3 L148.4,227.4 L148.8,226.5 L149.2,225.6 L149.5,224.6 L149.9,223.7 L150.3,222.8 L150.7,221.9 L151.0,220.9 L151.4,220.0 L151.8,219.1 L152.1,218.1 L152.5,217.2 L152.9,216.3 L153.3,215.4 L153.6,214.4 L154.0,213.5 L154.4,212.6 L154.7,211.7 L155.1,210.7 L155.5,209.8 L155.9,208.9 L156.3,208.0 L156.8,207.1 L157.2,206.2 L157.6,205.3 L158.1,204.4 L158.5,203.5 L159.0,202.6 L159.4,201.7 L159.9,200.8 L160.3,199.9 L160.8,199.0 L161.3,198.2 L161.8,197.3 L162.3,196.4 L162.8,195.6 L163.4,194.7 L163.9,193.9 L164.5,193.1 L165.1,192.2 L165.7,191.4 L166.3,190.7 L166.9,189.9 L167.5,189.1 L168.1,188.3 L168.8,187.5 L169.4,186.7 L170.0,186.0 L170.7,185.2 L171.3,184.4 L171.9,183.7 L172.6,182.9 L173.2,182.1 L173.9,181.4 L174.5,180.6 L175.2,179.8 L175.8,179.1 L176.5,178.3 L177.1,177.6 L177.8,176.8 L178.4,176.1 L179.1,175.3 L179.8,174.6 L180.5,173.9 L181.3,173.2 L182.0,172.6 L182.8,171.9 L183.5,171.2 L184.3,170.6 L185.1,170.0 L185.8,169.3 L186.6,168.7 L187.4,168.1 L188.2,167.4 L189.0,166.9 L189.8,166.3 L190.6,165.7 L191.5,165.2 L192.3,164.7 L193.2,164.2 L194.1,163.7 L194.9,163.2 L195.8,162.7 L196.7,162.2 L197.5,161.7 L198.4,161.2 L199.3,160.7 L200.2,160.2 L201.0,159.7 L201.9,159.3 L202.8,158.8" fill="none" stroke="#14145e" stroke-width="2.55" stroke-linecap="round" stroke-dasharray="0.01 4.89" stroke-dashoffset="3.9"/>
<path d="M83.7,465.3 L84.1,463.9 L84.5,462.4 L84.9,461.0 L85.3,459.5 L85.7,458.1 L86.1,456.6 L86.5,455.2 L86.9,453.7 L87.3,452.3 L87.7,450.8 L88.1,449.4 L88.5,447.9 L88.9,446.5 L89.3,445.0 L89.6,443.6 L90.0,442.1 L90.4,440.7 L90.8,439.2 L91.2,437.8 L91.6,436.3 L91.9,434.8 L92.3,433.4 L92.7,431.9 L93.1,430.5 L93.5,429.0 L93.9,427.6 L94.2,426.1 L94.6,424.7 L95.0,423.2 L95.4,421.8 L95.8,420.3 L96.2,418.9 L96.5,417.4 L96.9,416.0 L97.3,414.5 L97.7,413.1 L98.1,411.6 L98.5,410.2 L98.8,408.7 L99.2,407.2 L99.6,405.8 L100.0,404.3 L100.4,402.9 L100.7,401.4 L101.1,400.0 L101.5,398.5 L101.9,397.1 L102.3,395.6 L102.6,394.2 L103.0,392.7 L103.4,391.3 L103.7,389.8 L104.1,388.3 L104.5,386.9 L104.8,385.4 L105.2,384.0 L105.6,382.5 L105.9,381.1 L106.3,379.6 L106.7,378.1 L107.1,376.7 L107.4,375.2 L107.8,373.8 L108.2,372.3 L108.6,370.9 L108.9,369.4 L109.3,368.0 L109.7,366.5 L110.1,365.1 L110.4,363.6 L110.8,362.1 L111.2,360.7 L111.6,359.2 L112.0,357.8 L112.3,356.3 L112.7,354.9 L113.1,353.4 L113.5,352.0 L113.9,350.5" fill="none" stroke="#7c7878" stroke-width="2.1"/>
<path d="M113.1,353.4 L113.5,352.0 L113.9,350.5 L114.2,349.1 L114.6,347.6 L115.0,346.2 L115.4,344.7 L115.8,343.3 L116.2,341.8 L116.6,340.4 L117.0,338.9 L117.4,337.5 L117.8,336.0 L118.2,334.6 L118.6,333.1 L119.0,331.7 L119.4,330.2 L119.8,328.8 L120.2,327.3 L120.6,325.9 L121.0,324.4 L121.4,323.0 L121.8,321.5 L122.2,320.1 L122.6,318.7 L123.1,317.2 L123.5,315.8 L123.9,314.3 L124.3,312.9 L124.8,311.4 L125.2,310.0 L125.6,308.6 L126.1,307.1 L126.5,305.7 L127.0,304.3 L127.4,302.8 L127.9,301.4 L128.3,300.0 L128.8,298.5 L129.2,297.1 L129.7,295.7 L130.2,294.3 L130.7,292.8 L131.1,291.4 L131.6,290.0 L132.1,288.6 L132.6,287.1 L133.1,285.7 L133.6,284.3 L134.1,282.9 L134.6,281.5 L135.1,280.1 L135.7,278.7 L136.2,277.3 L136.7,275.8 L137.2,274.4 L137.7,273.0 L138.2,271.6 L138.7,270.2 L139.2,268.8 L139.7,267.4 L140.2,266.0 L140.7,264.5 L141.3,263.1 L141.8,261.7 L142.3,260.3 L142.8,258.9 L143.3,257.5 L143.8,256.0 L144.3,254.6 L144.8,253.2 L145.3,251.8 L145.9,250.4 L146.4,249.0 L147.0,247.6 L147.6,246.3 L148.2,244.9 L148.8,243.5 L149.5,242.1 L150.1,240.8 L150.8,239.4 L151.4,238.1 L152.1,236.7 L152.8,235.4 L153.5,234.1 L154.2,232.7 L154.9,231.4 L155.6,230.1 L156.3,228.8 L157.0,227.4 L157.7,226.1 L158.4,224.8 L159.1,223.4 L159.8,222.1 L160.5,220.8 L161.2,219.5 L161.9,218.2 L162.7,216.8 L163.4,215.5 L164.1,214.2 L164.8,212.9 L165.6,211.6 L166.4,210.3 L167.2,209.1 L168.0,207.8 L168.9,206.6 L169.7,205.3 L170.6,204.1 L171.5,202.9 L172.4,201.7 L173.3,200.4 L174.2,199.3 L175.2,198.1 L176.1,197.0 L177.1,195.9 L178.1,194.8 L179.2,193.7 L180.3,192.7 L181.4,191.6 L182.5,190.6 L183.6,189.6 L184.8,188.6 L186.1,187.7 L187.3,186.8 L188.6,186.0 L189.9,185.2 L191.2,184.5 L192.5,183.9 L193.9,183.3 L195.3,182.7 L196.7,182.2 L198.2,181.8 L199.7,181.4 L201.2,181.0 L202.6,180.7 L204.1,180.5 L205.6,180.3 L207.1,180.1 L208.6,180.0 L210.1,180.0 L211.6,180.0 L213.1,180.0 L214.6,180.1 L216.1,180.1 L217.6,180.2 L219.1,180.3 L220.6,180.4 L222.1,180.6 L223.6,180.7 L225.1,180.9 L226.6,181.1 L228.1,181.3 L229.5,181.5 L231.0,181.7 L232.5,182.0 L234.0,182.3 L235.5,182.6 L236.9,183.0 L238.4,183.3 L239.8,183.7 L241.3,184.1 L242.7,184.5 L244.2,184.9 L245.6,185.3 L247.0,185.8 L248.5,186.3 L249.9,186.8 L251.3,187.3 L252.7,187.8 L254.1,188.3 L255.5,188.8 L257.0,189.3 L258.4,189.8 L259.8,190.3 L261.2,190.8 L262.6,191.3 L264.0,191.9 L265.4,192.4 L266.9,192.9 L268.3,193.4 L269.7,193.9 L271.1,194.4 L272.5,194.9 L273.9,195.4 L275.4,195.9 L276.8,196.4 L278.2,196.9 L279.6,197.4 L281.0,197.9 L282.4,198.4 L283.8,198.9 L285.3,199.4 L286.7,199.9 L288.1,200.4 L289.5,201.0 L290.9,201.5 L292.3,202.0 L293.7,202.5 L295.1,203.0 L296.5,203.6 L297.9,204.1 L299.3,204.6 L300.7,205.2 L302.1,205.7 L303.5,206.3 L304.9,206.8 L306.3,207.3 L307.7,207.9 L309.1,208.5 L310.5,209.0 L311.9,209.6 L313.3,210.2 L314.7,210.7 L316.1,211.3 L317.4,212.0 L318.8,212.6 L320.2,213.2 L321.6,213.8 L322.9,214.4 L324.3,215.0 L325.7,215.7 L327.0,216.3 L328.4,217.0 L329.7,217.6 L331.1,218.3 L332.4,218.9 L333.7,219.6 L335.1,220.3 L336.4,221.1 L337.7,221.8 L339.0,222.5 L340.4,223.2 L341.7,223.9 L343.0,224.7 L344.3,225.4 L345.6,226.1 L346.9,226.9 L348.2,227.6 L349.5,228.3 L350.9,229.1 L352.2,229.8 L353.5,230.5 L354.8,231.3 L356.1,232.0 L357.4,232.7 L358.7,233.5 L360.0,234.2 L361.3,234.9 L362.6,235.7 L364.0,236.4 L365.3,237.2 L366.6,237.9 L367.9,238.6 L369.2,239.4 L370.5,240.1 L371.8,240.8 L373.1,241.6 L374.4,242.3 L375.7,243.0 L377.1,243.8 L378.4,244.5 L379.7,245.2 L381.0,246.0 L382.3,246.7 L383.6,247.4 L384.9,248.2 L386.2,248.9 L387.6,249.6 L388.9,250.3 L390.2,251.0 L391.6,251.7 L392.9,252.4 L394.2,253.1 L395.6,253.7 L396.9,254.4 L398.3,255.1 L399.6,255.7 L401.0,256.4 L402.3,257.1 L403.7,257.7 L405.0,258.4 L406.3,259.1 L407.7,259.8 L409.0,260.5 L410.3,261.2 L411.6,261.9 L412.9,262.7 L414.2,263.4 L415.5,264.3 L416.7,265.1 L418.0,265.9 L419.3,266.7 L420.5,267.6 L421.8,268.4 L423.0,269.2 L424.3,270.1 L425.5,270.9 L426.8,271.6 L428.1,272.4 L429.4,273.1 L430.8,273.8 L432.1,274.4 L433.5,275.0 L434.9,275.6 L436.3,276.2 L437.7,276.7 L439.1,277.3 L440.5,277.9 L441.8,278.5 L443.2,279.1 L444.5,279.8 L445.9,280.5 L447.2,281.1 L448.6,281.8 L449.9,282.5 L451.2,283.2 L452.5,284.0 L453.8,284.7 L455.1,285.5 L456.4,286.3 L457.7,287.1 L458.9,287.9 L460.2,288.8 L461.4,289.6 L462.7,290.4 L463.9,291.3 L465.2,292.1 L466.4,292.9 L467.7,293.7 L469.0,294.5 L470.3,295.3 L471.6,296.0 L472.9,296.8 L474.2,297.6 L475.5,298.3 L476.8,299.1 L478.1,299.8 L479.4,300.5 L480.7,301.3 L482.0,302.0 L483.3,302.7 L484.6,303.4 L486.0,304.1 L487.3,304.7 L488.7,305.4 L490.1,306.0 L491.5,306.5 L492.9,307.0 L494.4,307.5 L495.8,307.8 L497.3,307.9 L498.8,308.1 L500.3,308.2 L501.8,308.3 L503.3,308.4 L504.8,308.5 L506.3,308.6 L507.8,308.7 L509.3,308.8 L510.8,308.9 L512.3,309.0 L513.8,309.1 L515.3,309.2 L516.8,309.3 L518.3,309.4 L519.8,309.5 L521.3,309.6 L522.8,309.7 L524.3,309.8 L525.8,309.9 L527.3,310.0 L528.8,310.0 L530.3,310.1 L531.8,310.2 L533.3,310.3 L534.8,310.4 L536.3,310.5 L537.8,310.6 L539.3,310.7 L540.8,310.7 L542.3,310.8 L543.8,310.9 L545.3,311.0 L546.8,311.1 L548.3,311.2 L549.8,311.3 L551.3,311.4 L552.8,311.5 L554.3,311.6 L555.8,311.6 L557.3,311.7 L558.8,311.8 L560.3,311.9 L561.8,312.0 L563.3,312.1 L564.8,312.2 L566.3,312.3 L567.8,312.4 L569.3,312.5 L570.8,312.6 L572.3,312.7 L573.8,312.8 L575.3,312.9 L576.8,313.0 L578.3,313.1 L579.8,313.2 L581.3,313.3 L582.8,313.3 L584.3,313.4 L585.8,313.5 L587.3,313.6 L588.8,313.7 L590.3,313.8 L591.8,313.9 L593.3,314.0 L594.8,314.1 L596.3,314.2 L597.8,314.3 L599.3,314.4 L600.8,314.5 L602.3,314.6 L603.8,314.6 L605.3,314.7 L606.8,314.8 L608.3,314.9 L609.8,315.0 L611.3,315.1 L612.8,315.1 L614.3,315.2 L615.8,315.3 L617.3,315.4 L618.8,315.4 L620.3,315.5 L621.8,315.6 L623.3,315.6 L624.8,315.7 L626.3,315.7 L627.8,315.8 L629.3,315.8 L630.8,315.8 L632.3,315.9 L633.8,315.9 L635.3,316.0 L636.8,316.0 L638.3,316.0 L639.8,316.1 L641.3,316.1 L642.8,316.1 L644.3,316.2 L645.8,316.2 L647.3,316.2 L648.8,316.3 L650.3,316.3 L651.8,316.3 L653.3,316.4 L654.8,316.4 L656.3,316.4 L657.8,316.5 L659.3,316.5 L660.8,316.5 L662.3,316.5 L663.8,316.6 L665.3,316.6 L666.8,316.6 L668.3,316.6 L669.9,316.7 L671.4,316.7 L672.9,316.7 L674.4,316.7 L675.9,316.8 L677.4,316.8 L678.9,316.8 L680.4,316.8 L681.9,316.8 L683.4,316.9 L684.9,316.9 L686.4,316.9 L687.9,316.9 L689.4,316.9 L690.9,316.9 L692.4,316.9 L693.9,317.0 L695.4,317.0 L696.9,317.0 L698.4,317.0 L699.9,317.0 L701.4,317.0 L702.9,317.0" fill="none" stroke="#7c6262" stroke-width="1.8"/>
<path d="M498.8,308.1 L500.3,308.2 L501.8,308.3 L503.3,308.4 L504.8,308.5 L506.3,308.6 L507.8,308.7 L509.3,308.8 L510.8,308.9 L512.3,309.0 L513.8,309.1 L515.3,309.2 L516.8,309.3 L518.3,309.4 L519.8,309.5 L521.3,309.6 L522.8,309.7 L524.3,309.8 L525.8,309.9 L527.3,310.0 L528.8,310.0 L530.3,310.1 L531.8,310.2 L533.3,310.3 L534.8,310.4 L536.3,310.5 L537.8,310.6 L539.3,310.7 L540.8,310.7 L542.3,310.8 L543.8,310.9 L545.3,311.0 L546.8,311.1 L548.3,311.2 L549.8,311.3 L551.3,311.4 L552.8,311.5 L554.3,311.6 L555.8,311.6 L557.3,311.7 L558.8,311.8 L560.3,311.9 L561.8,312.0 L563.3,312.1 L564.8,312.2 L566.3,312.3 L567.8,312.4 L569.3,312.5 L570.8,312.6 L572.3,312.7 L573.8,312.8 L575.3,312.9 L576.8,313.0 L578.3,313.1 L579.8,313.2 L581.3,313.3 L582.8,313.3 L584.3,313.4 L585.8,313.5 L587.3,313.6 L588.8,313.7 L590.3,313.8 L591.8,313.9 L593.3,314.0 L594.8,314.1 L596.3,314.2 L597.8,314.3 L599.3,314.4 L600.8,314.5 L602.3,314.6 L603.8,314.6 L605.3,314.7 L606.8,314.8 L608.3,314.9 L609.8,315.0 L611.3,315.1 L612.8,315.1 L614.3,315.2 L615.8,315.3 L617.3,315.4 L618.8,315.4 L620.3,315.5 L621.8,315.6 L623.3,315.6 L624.8,315.7 L626.3,315.7 L627.8,315.8 L629.3,315.8 L630.8,315.8 L632.3,315.9 L633.8,315.9 L635.3,316.0 L636.8,316.0 L638.3,316.0 L639.8,316.1 L641.3,316.1 L642.8,316.1 L644.3,316.2 L645.8,316.2 L647.3,316.2 L648.8,316.3 L650.3,316.3 L651.8,316.3 L653.3,316.4 L654.8,316.4 L656.3,316.4 L657.8,316.5 L659.3,316.5 L660.8,316.5 L662.3,316.5 L663.8,316.6 L665.3,316.6 L666.8,316.6 L668.3,316.6 L669.9,316.7 L671.4,316.7 L672.9,316.7 L674.4,316.7 L675.9,316.8 L677.4,316.8 L678.9,316.8 L680.4,316.8 L681.9,316.8 L683.4,316.9 L684.9,316.9 L686.4,316.9 L687.9,316.9 L689.4,316.9 L690.9,316.9 L692.4,316.9 L693.9,317.0 L695.4,317.0 L696.9,317.0 L698.4,317.0 L699.9,317.0 L701.4,317.0 L702.9,317.0" fill="none" stroke="#7a7a74" stroke-width="1.6"/>
<path d="M445.0,279.0 L445.9,279.4 L446.8,279.9 L447.7,280.4 L448.6,280.8 L449.5,281.3 L450.4,281.7 L451.2,282.2 L452.1,282.7 L453.0,283.2 L453.9,283.7 L454.7,284.2 L455.6,284.7 L456.5,285.2 L457.4,285.7 L458.2,286.2 L459.1,286.7 L459.9,287.2 L460.8,287.8 L461.6,288.3 L462.4,288.9 L463.2,289.5 L464.1,290.1 L464.9,290.6 L465.7,291.2 L466.5,291.8 L467.3,292.4 L468.1,293.0 L468.9,293.6 L469.7,294.2 L470.5,294.8 L471.3,295.5 L472.1,296.1 L472.9,296.6 L473.8,297.1 L474.7,297.6 L475.6,298.1" fill="none" stroke="#e01414" stroke-width="1.6"/>
<path d="M495.8,307.4 L496.6,306.8 L497.1,305.9 L497.4,304.9 L497.7,304.0 L497.9,303.0 L498.0,302.0" fill="none" stroke="#e01414" stroke-width="2.1"/>
<path d="M74.47,317.4 H704" fill="none" stroke="#000" stroke-width="2" stroke-dasharray="6.85 2.93"/>
</g>
<rect x="81.4" y="7.7" width="621.5" height="464.6" fill="none" stroke="#151515" stroke-width="1.25"/>
<path d="M76.8,472.3H81.4 M76.8,379.4H81.4 M76.8,286.5H81.4 M76.8,193.5H81.4 M76.8,100.6H81.4 M76.8,7.7H81.4 M347.5,472.3V476.9 M658.0,472.3V476.9" stroke="#151515" stroke-width="1.2" fill="none"/>
<path d="M130.5,472.3V475.2 M185.1,472.3V475.2 M223.9,472.3V475.2 M254.0,472.3V475.2 M278.6,472.3V475.2 M299.4,472.3V475.2 M317.4,472.3V475.2 M333.3,472.3V475.2 M441.0,472.3V475.2 M495.6,472.3V475.2 M534.4,472.3V475.2 M564.5,472.3V475.2 M589.1,472.3V475.2 M609.9,472.3V475.2 M627.9,472.3V475.2 M643.8,472.3V475.2" stroke="#151515" stroke-width="1" fill="none"/>
<text transform="translate(72.4,480.3) scale(0.9,0.96)" font-size="25" text-anchor="end">0.0</text>
<text transform="translate(72.4,387.4) scale(0.9,0.96)" font-size="25" text-anchor="end">0.2</text>
<text transform="translate(72.4,294.5) scale(0.9,0.96)" font-size="25" text-anchor="end">0.4</text>
<text transform="translate(72.4,201.5) scale(0.9,0.96)" font-size="25" text-anchor="end">0.6</text>
<text transform="translate(72.4,108.6) scale(0.9,0.96)" font-size="25" text-anchor="end">0.8</text>
<text transform="translate(72.4,15.7) scale(0.9,0.96)" font-size="25" text-anchor="end">1.0</text>
<text transform="translate(333.25,498.2) scale(0.81,0.96)" font-size="25">10</text>
<text transform="translate(354.05,489.6) scale(0.9,1)" font-size="17">3</text>
<text transform="translate(643.75,498.2) scale(0.81,0.96)" font-size="25">10</text>
<text transform="translate(664.55,489.6) scale(0.9,1)" font-size="17">4</text>
<text transform="translate(350.9,522.7)" font-size="25"><tspan font-style="italic">μ</tspan></text>
<text transform="translate(363.2,527) scale(1.15,1)" font-size="17" font-style="italic">I</text>
<text transform="translate(378.9,522.7) scale(0.83,1)" font-size="25">[MeV]</text>
<g transform="translate(35.8,263.8) rotate(-90)" font-size="25.5"><text x="0" y="0" font-style="italic">c</text><text x="11.0" y="5.8" font-style="italic" font-size="16">s</text><text x="11.2" y="-11.4" font-size="16">2</text><text transform="translate(19.4,0.5) scale(1.45,1.05)">/</text><text x="30.0" y="0" font-style="italic">c</text><text x="39.6" y="-11.4" font-size="16">2</text></g>
<rect x="457.4" y="18.7" width="233.9" height="137" fill="#fff" fill-opacity="0.8" stroke="#7a7a7a" stroke-width="1.1"/>
<path d="M467.3,36.2H490.6" stroke="#14145e" stroke-width="2.55" stroke-linecap="round" stroke-dasharray="0.01 5.05" fill="none"/>
<path d="M465.6,69.3H490.6" stroke="#edb528" stroke-width="1.9" stroke-dasharray="6.9 2.9" fill="none"/>
<path d="M465.6,102.6H490.6" stroke="#e01010" stroke-width="2" fill="none"/>
<path d="M465.6,134.4H490.6" stroke="#6e6e6e" stroke-width="1.8" fill="none"/>
<text x="508.3" y="44.4" textLength="95" lengthAdjust="spacingAndGlyphs">NLO <tspan font-style="italic">χ</tspan>PT</text>
<text x="507.5" y="77.3" textLength="174.8" lengthAdjust="spacingAndGlyphs">pQCD w/o pairing</text>
<text x="508.3" y="110.4" textLength="60.8" lengthAdjust="spacingAndGlyphs">LQCD</text>
<text x="508.3" y="142.6" textLength="93.4" lengthAdjust="spacingAndGlyphs">GP model</text>
</svg>
</body></html>
